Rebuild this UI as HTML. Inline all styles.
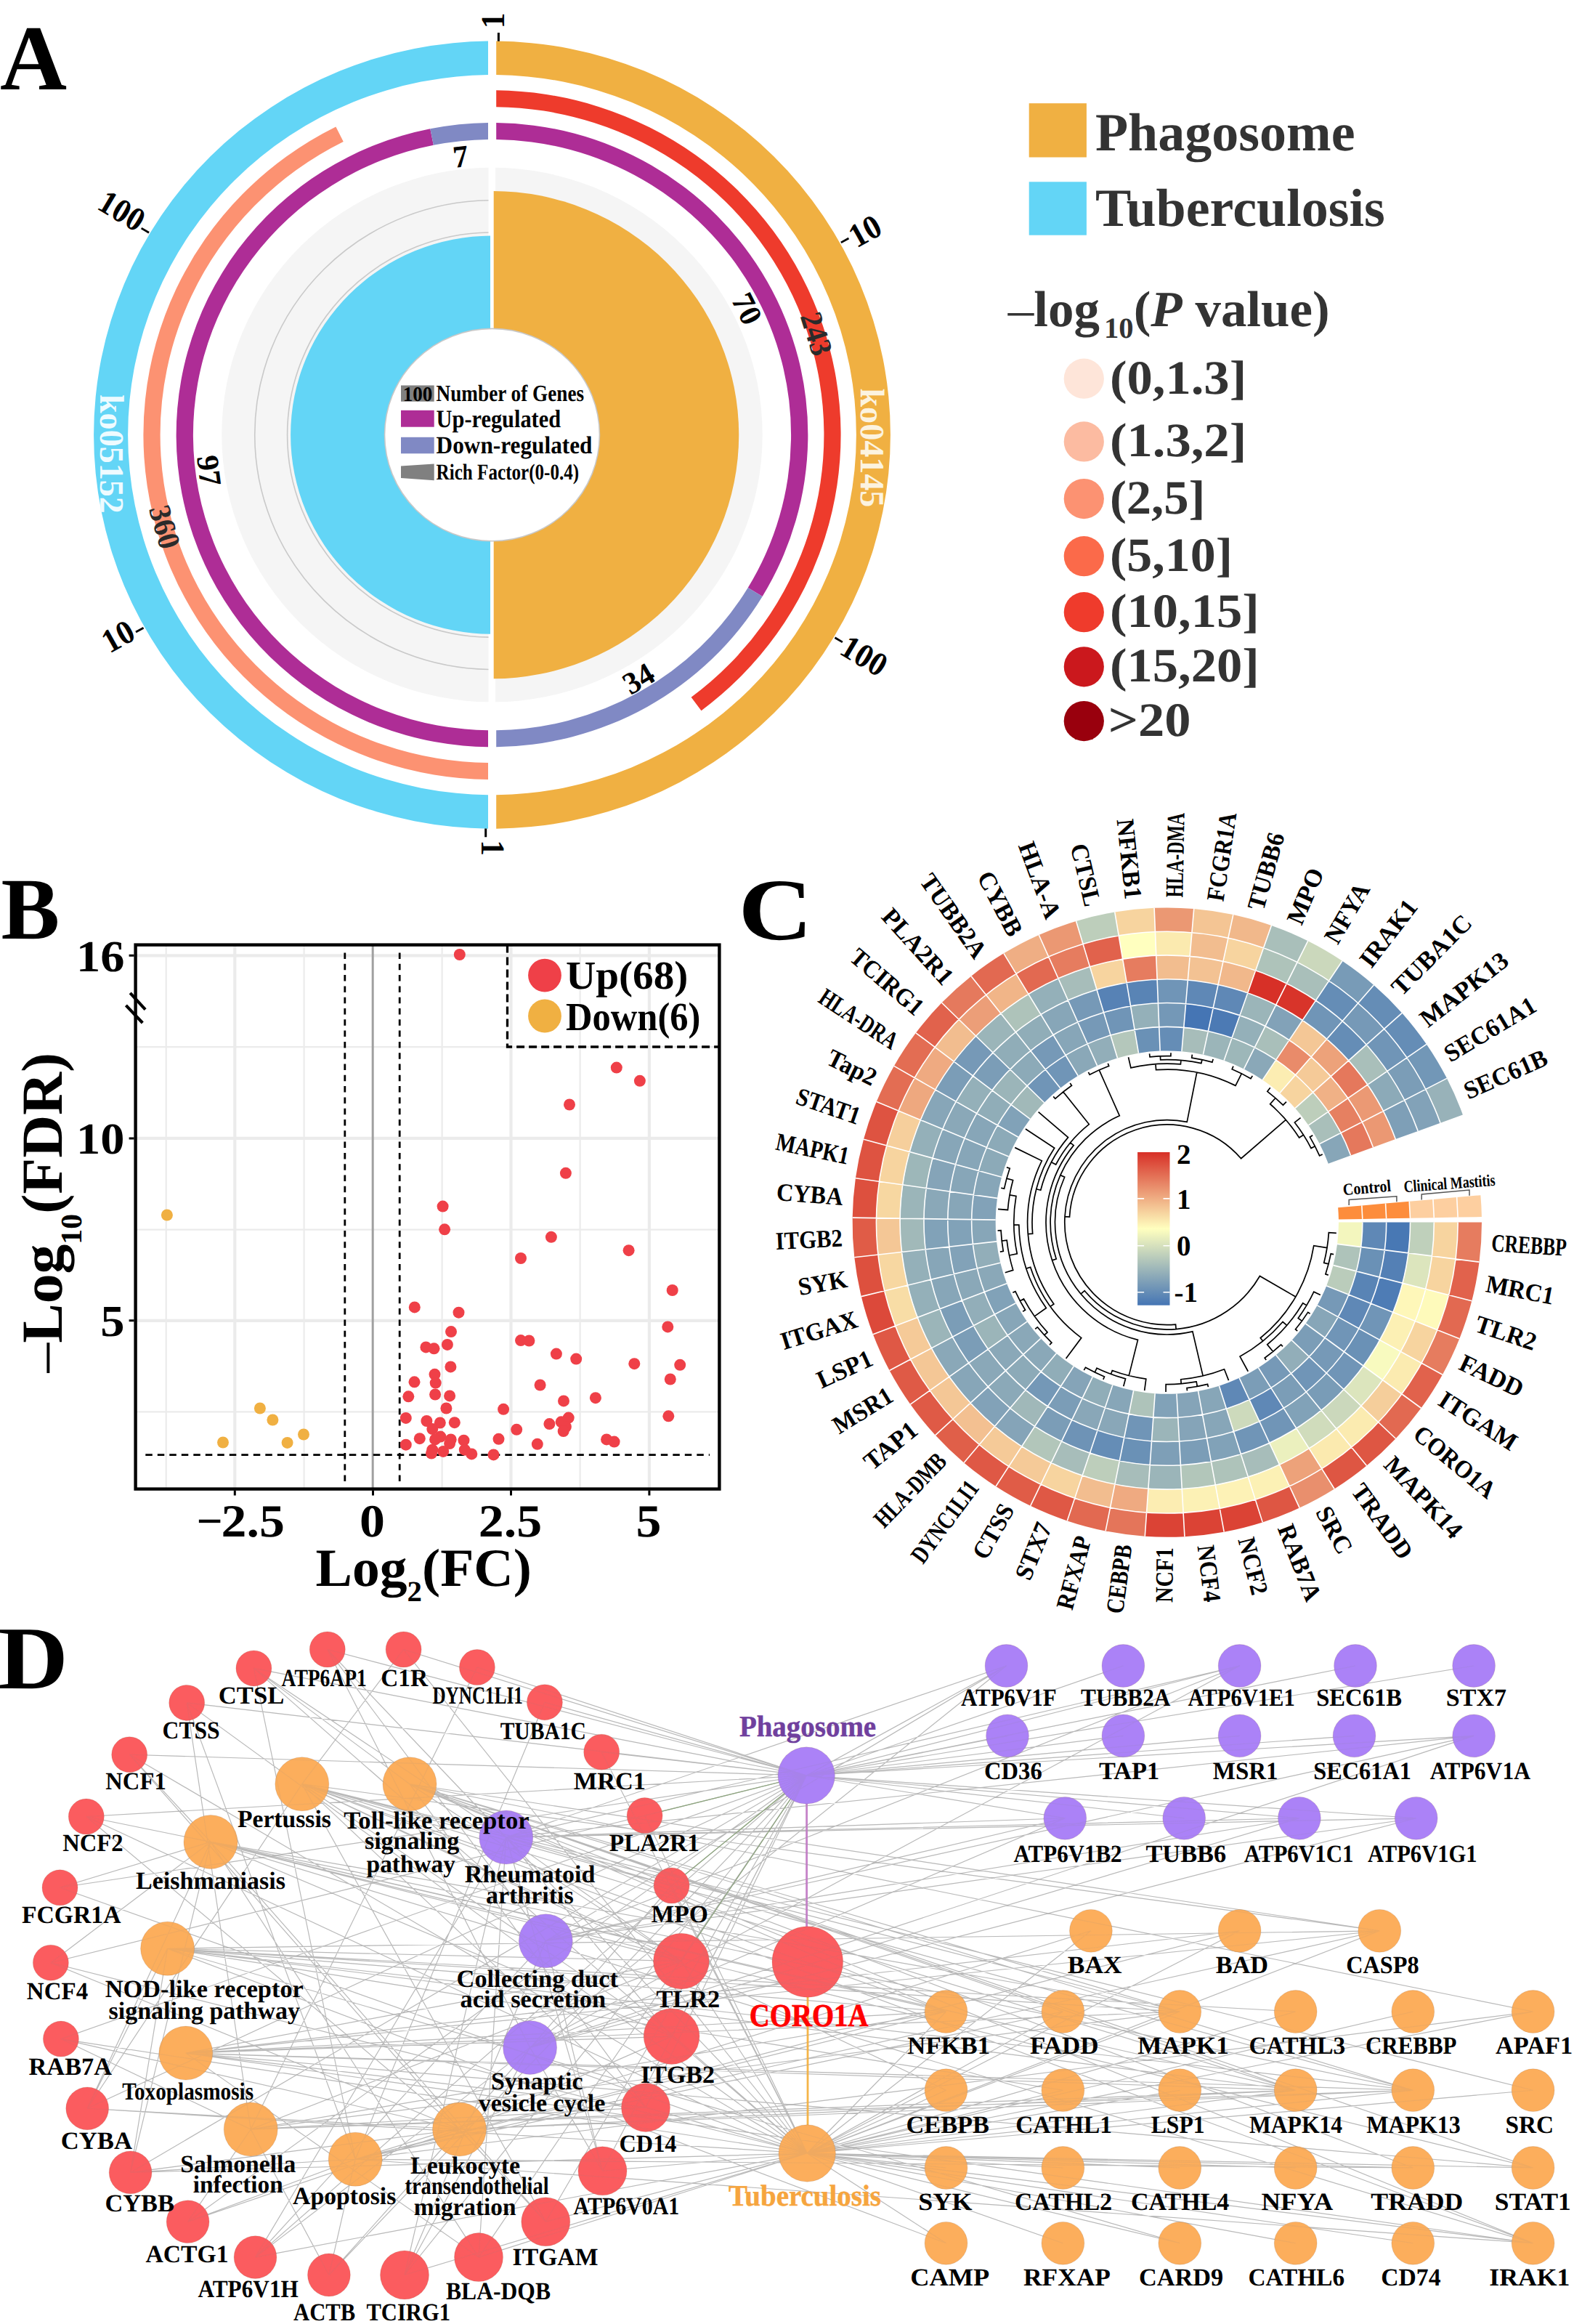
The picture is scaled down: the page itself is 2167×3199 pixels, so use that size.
<!DOCTYPE html>
<html lang="en"><head><meta charset="utf-8"><title>Figure</title>
<style>html,body{margin:0;padding:0;background:#fff}svg{display:block}</style></head>
<body>
<svg width="2167" height="3199" viewBox="0 0 2167 3199" font-family="'Liberation Serif', serif" font-weight="bold" text-rendering="geometricPrecision">
<defs><clipPath id="aR"><rect x="683.2" y="0" width="700" height="1200"/></clipPath><clipPath id="aL"><rect x="0" y="0" width="671.9" height="1200"/></clipPath><clipPath id="aGR"><rect x="682" y="0" width="700" height="1200"/></clipPath><clipPath id="aGL"><rect x="0" y="0" width="672.5" height="1200"/></clipPath><clipPath id="aSR"><rect x="679.7" y="0" width="700" height="1200"/></clipPath><clipPath id="aSL"><rect x="0" y="0" width="675" height="1200"/></clipPath></defs>
<path d="M677.5 56.5A548.61 542.1 0 0 1 677.5 1140.7L677.5 1094.2A501.55 495.6 0 0 0 677.5 103Z" fill="#F0B042" clip-path="url(#aR)"/>
<path d="M677.5 1140.7A548.61 542.1 0 0 1 677.5 56.5L677.5 103A501.55 495.6 0 0 0 677.5 1094.2Z" fill="#63D5F6" clip-path="url(#aL)"/>
<path d="M677.5 124.2A480.09 474.4 0 0 1 965.51 978.15L951.61 959.83A456.92 451.5 0 0 0 677.5 147.1Z" fill="#EE3B2C" clip-path="url(#aR)"/>
<path d="M677.5 1073A480.09 474.4 0 0 1 462.37 174.49L472.76 194.97A456.92 451.5 0 0 0 677.5 1050.1Z" fill="#FC9272" clip-path="url(#aL)"/>
<path d="M677.5 168.9A434.86 429.7 0 0 1 1049.64 820.9L1029.72 809A411.58 406.7 0 0 0 677.5 191.9Z" fill="#AE2D96" clip-path="url(#aR)"/>
<path d="M1049.64 820.9A434.86 429.7 0 0 1 677.5 1028.3L677.5 1005.3A411.58 406.7 0 0 0 1029.72 809Z" fill="#8089C4" clip-path="url(#aR)"/>
<path d="M677.5 1028.3A434.86 429.7 0 0 1 592.29 177.23L596.85 199.78A411.58 406.7 0 0 0 677.5 1005.3Z" fill="#AE2D96" clip-path="url(#aL)"/>
<path d="M592.29 177.23A434.86 429.7 0 0 1 677.5 168.9L677.5 191.9A411.58 406.7 0 0 0 596.85 199.78Z" fill="#8089C4" clip-path="url(#aL)"/>
<path d="M677.5 230.8A372.21 367.8 0 0 1 677.5 966.4L677.5 598.6Z" fill="#F5F5F5" clip-path="url(#aGR)"/>
<path d="M677.5 966.4A372.21 367.8 0 0 1 677.5 230.8L677.5 598.6Z" fill="#F5F5F5" clip-path="url(#aGL)"/>
<path d="M677.5 921.5A326.77 322.9 0 0 1 677.5 275.7" fill="none" stroke="#C9C9C9" stroke-width="1.6" clip-path="url(#aGL)"/>
<path d="M677.5 877.2A281.94 278.6 0 0 1 677.5 320" fill="none" stroke="#C9C9C9" stroke-width="1.6" clip-path="url(#aGL)"/>
<path d="M677.5 262.9A339.73 335.7 0 0 1 677.5 934.3L677.5 598.6Z" fill="#F0B042" clip-path="url(#aSR)"/>
<path d="M677.5 872.8A277.49 274.2 0 0 1 677.5 324.4L677.5 598.6Z" fill="#63D5F6" clip-path="url(#aSL)"/>
<ellipse cx="677.5" cy="598.6" rx="147.95" ry="146.2" fill="#fff" stroke="#C8C8C8" stroke-width="1.6"/>
<rect x="552" y="530.5" width="45.7" height="22.2" fill="#808080"/>
<rect x="552" y="564.8" width="45.7" height="22.9" fill="#AE2D96"/>
<rect x="552" y="601.8" width="45.7" height="22.5" fill="#8089C4"/>
<path d="M552 641.4L597.7 638.4L597.7 661.3L552 657.9Z" fill="#808080"/>
<text transform="translate(554.7,551.5) scale(0.95,1)" font-size="28.5">100</text>
<text transform="translate(600.6,551.5) scale(0.85,1)" font-size="32">Number of Genes</text>
<text transform="translate(600.6,587.7) scale(0.88,1)" font-size="34.5">Up-regulated</text>
<text transform="translate(600.6,624.3) scale(0.92,1)" font-size="34">Down-regulated</text>
<text transform="translate(600.6,660.2) scale(0.81,1)" font-size="31">Rich Factor(0-0.4)</text>
<path d="M686.4 45.1V56.8M668.7 1140.5V1152.2" stroke="#000" stroke-width="3"/>
<path d="M1157.86 333.86L1168.47 328.02" stroke="#000" stroke-width="2.8"/>
<path d="M1149.45 877.71L1159.87 883.87" stroke="#000" stroke-width="2.8"/>
<path d="M197.61 864.17L187.01 870.03" stroke="#000" stroke-width="2.8"/>
<path d="M205.05 320.3L194.62 314.16" stroke="#000" stroke-width="2.8"/>
<text transform="translate(694.4,39.2) rotate(-90) scale(0.95,1)" font-size="46">1</text>
<text transform="translate(663.4,1156.2) rotate(90) scale(0.95,1)" font-size="46">1</text>
<text transform="translate(1179.2,342.08) rotate(-29.15) scale(0.95,1)" font-size="46">10</text>
<text transform="translate(1153.73,899.06) rotate(30.9) scale(0.95,1)" font-size="46">100</text>
<text transform="translate(188.96,878.67) rotate(-29.25) scale(0.95,1)" font-size="46" text-anchor="end">10</text>
<text transform="translate(188.1,320.18) rotate(30.8) scale(0.95,1)" font-size="46" text-anchor="end">100</text>
<text transform="translate(1015.6,431.38) rotate(63.4) scale(0.98,1)" font-size="43" text-anchor="middle">70</text>
<text transform="translate(886.42,946.44) rotate(-30.7) scale(0.98,1)" font-size="43" text-anchor="middle">34</text>
<text transform="translate(635.63,229.95) rotate(-6.4) scale(0.98,1)" font-size="43" text-anchor="middle">7</text>
<text transform="translate(273.61,649.75) rotate(82.7) scale(0.98,1)" font-size="43" text-anchor="middle">97</text>
<text transform="translate(1110.51,463.74) rotate(72.5) scale(0.93,1)" font-size="43" text-anchor="middle" fill="#2b2b2b">243</text>
<text transform="translate(212.89,729.42) rotate(74.1) scale(0.93,1)" font-size="43" text-anchor="middle" fill="#2b2b2b">360</text>
<text transform="translate(1185.2,534.5) rotate(90) scale(0.98,1)" font-size="47" fill="#FCF3E0">ko04145</text>
<text transform="translate(137.8,543) rotate(90) scale(0.98,1)" font-size="47" fill="#EEFBFF">ko05152</text>
<rect x="1416.7" y="142.2" width="79.2" height="74.3" fill="#F0B042"/>
<rect x="1416.7" y="250.3" width="79.2" height="73.4" fill="#63D5F6"/>
<text transform="translate(1507.9,206.7)" font-size="74" fill="#333">Phagosome</text>
<text transform="translate(1507.9,311.2) scale(1,1)" font-size="74" fill="#333">Tuberculosis</text>
<text transform="translate(1387.8,449) scale(1.014,1)" font-size="70" fill="#333"><tspan font-weight="normal">–</tspan>log<tspan font-size="40" dx="6" dy="15.5">10</tspan><tspan dy="-15.5">(</tspan><tspan font-style="italic">P</tspan> value)</text>
<circle cx="1492.3" cy="521.2" r="27.6" fill="#FEE5D9"/>
<text transform="translate(1527.9,541.5) scale(1.07,1)" font-size="66" fill="#333">(0,1.3]</text>
<circle cx="1492.3" cy="607.9" r="27.6" fill="#FCBBA1"/>
<text transform="translate(1527.9,628.2) scale(1.07,1)" font-size="66" fill="#333">(1.3,2]</text>
<circle cx="1492.3" cy="686.6" r="27.6" fill="#FC9272"/>
<text transform="translate(1527.9,706.9) scale(1.04,1)" font-size="66" fill="#333">(2,5]</text>
<circle cx="1492.3" cy="765.7" r="27.6" fill="#FB6A4A"/>
<text transform="translate(1527.9,786) scale(1.06,1)" font-size="66" fill="#333">(5,10]</text>
<circle cx="1492.3" cy="842.7" r="27.6" fill="#EF3B2C"/>
<text transform="translate(1527.9,863) scale(1.07,1)" font-size="66" fill="#333">(10,15]</text>
<circle cx="1492.3" cy="917.8" r="27.6" fill="#CB181D"/>
<text transform="translate(1527.9,938.1) scale(1.07,1)" font-size="66" fill="#333">(15,20]</text>
<circle cx="1492.3" cy="992.6" r="27.6" fill="#99000D"/>
<text transform="translate(1525.7,1012.9) scale(1.1,1)" font-size="66" fill="#333">&gt;20</text>
<text transform="translate(0,122.5)" font-size="127.5">A</text>
<path d="M323.3 1300.6V2049.6M703.5 1300.6V2049.6M893.9 1300.6V2049.6M186.6 1315.3H990.4M186.6 1566.9H990.4M186.6 1817.8H990.4" stroke="#EBEBEB" stroke-width="4.2" fill="none"/>
<path d="M228.7 1300.6V2049.6M418.6 1300.6V2049.6M608.6 1300.6V2049.6M798.6 1300.6V2049.6M186.6 1441.1H990.4M186.6 1692.7H990.4M186.6 1943.3H990.4" stroke="#EBEBEB" stroke-width="2.2" fill="none"/>
<path d="M513.2 1300.6V2049.6" stroke="#A0A0A0" stroke-width="3"/>
<path d="M474.8 1311.5V2045M550.2 1311.5V2045" stroke="#000" stroke-width="2.8" stroke-dasharray="8.5 6.8" fill="none"/>
<path d="M200.3 2002.7H977" stroke="#000" stroke-width="2.8" stroke-dasharray="9.5 7" fill="none"/>
<g fill="#F0B042"><circle cx="229.9" cy="1672.5" r="8"/><circle cx="307" cy="1985.5" r="8"/><circle cx="357.9" cy="1938.5" r="8"/><circle cx="375.4" cy="1954.5" r="8"/><circle cx="395.6" cy="1985.9" r="8"/><circle cx="418" cy="1974.5" r="8"/></g>
<g fill="#EF4048"><circle cx="632.8" cy="1314" r="8"/><circle cx="848.8" cy="1469.6" r="8"/><circle cx="880.9" cy="1487.8" r="8"/><circle cx="784" cy="1520.5" r="8"/><circle cx="778.9" cy="1614.8" r="8"/><circle cx="609.6" cy="1660.6" r="8"/><circle cx="612.1" cy="1692.3" r="8"/><circle cx="758.9" cy="1702.8" r="8"/><circle cx="865.6" cy="1721.2" r="8"/><circle cx="717" cy="1732" r="8"/><circle cx="925.7" cy="1776" r="8"/><circle cx="570.8" cy="1799.4" r="8"/><circle cx="631.5" cy="1806.7" r="8"/><circle cx="919.3" cy="1826.4" r="8"/><circle cx="621" cy="1833.1" r="8"/><circle cx="615.9" cy="1850.9" r="8"/><circle cx="586.4" cy="1854.4" r="8"/><circle cx="597.5" cy="1856.3" r="8"/><circle cx="717" cy="1845.1" r="8"/><circle cx="728.4" cy="1845.5" r="8"/><circle cx="765.9" cy="1863.6" r="8"/><circle cx="793.2" cy="1870.6" r="8"/><circle cx="873.3" cy="1877.2" r="8"/><circle cx="936.2" cy="1878.8" r="8"/><circle cx="620.4" cy="1881.4" r="8"/><circle cx="598.5" cy="1891.8" r="8"/><circle cx="922.8" cy="1898.5" r="8"/><circle cx="570.5" cy="1902.3" r="8"/><circle cx="599.7" cy="1903.6" r="8"/><circle cx="743.6" cy="1906.5" r="8"/><circle cx="599.1" cy="1919.5" r="8"/><circle cx="619.1" cy="1921.4" r="8"/><circle cx="562.3" cy="1922.3" r="8"/><circle cx="819.9" cy="1924.2" r="8"/><circle cx="776" cy="1928.4" r="8"/><circle cx="614.4" cy="1938.5" r="8"/><circle cx="693.1" cy="1939.8" r="8"/><circle cx="920.3" cy="1949.3" r="8"/><circle cx="558.8" cy="1951.9" r="8"/><circle cx="782.7" cy="1951.6" r="8"/><circle cx="587.4" cy="1956" r="8"/><circle cx="605.8" cy="1958.5" r="8"/><circle cx="625.8" cy="1958.2" r="8"/><circle cx="772.6" cy="1957.3" r="8"/><circle cx="756.4" cy="1960.1" r="8"/><circle cx="778.9" cy="1964" r="8"/><circle cx="595.3" cy="1967.1" r="8"/><circle cx="711.2" cy="1967.8" r="8"/><circle cx="775.7" cy="1970" r="8"/><circle cx="606.4" cy="1977.6" r="8"/><circle cx="577.8" cy="1980.2" r="8"/><circle cx="599.1" cy="1981.4" r="8"/><circle cx="620.7" cy="1981.4" r="8"/><circle cx="638.5" cy="1982.7" r="8"/><circle cx="686.5" cy="1980.8" r="8"/><circle cx="835.1" cy="1981.4" r="8"/><circle cx="845.6" cy="1984.6" r="8"/><circle cx="558.8" cy="1988.7" r="8"/><circle cx="619.1" cy="1987.1" r="8"/><circle cx="739.8" cy="1987.8" r="8"/><circle cx="595.3" cy="1995.7" r="8"/><circle cx="610.2" cy="1997.9" r="8"/><circle cx="639.8" cy="1995.7" r="8"/><circle cx="594" cy="2000.5" r="8"/><circle cx="649.3" cy="2001.4" r="8"/><circle cx="679.5" cy="2002.4" r="8"/></g>
<path d="M698.5 1300.6V1441H990.4" stroke="#000" stroke-width="3.3" stroke-dasharray="11 6" fill="none"/>
<circle cx="750" cy="1342.6" r="22.9" fill="#EF4048"/>
<circle cx="750" cy="1398.5" r="22.9" fill="#F0B042"/>
<text transform="translate(778.9,1361) scale(1.04,1)" font-size="55">Up(68)</text>
<text transform="translate(778.9,1418.2) scale(0.92,1)" font-size="55">Down(6)</text>
<rect x="186.6" y="1300.6" width="803.8" height="749" fill="none" stroke="#000" stroke-width="4.4"/>
<path d="M323.3 2051.6v7M513.5 2051.6v7M703.5 2051.6v7M893.9 2051.6v7M184.6 1315.3h-7M184.6 1566.9h-7M184.6 1817.8h-7" stroke="#000" stroke-width="3" fill="none"/>
<path d="M179.2 1366.8L200.1 1389.7M173.4 1383.9L196.3 1408" stroke="#000" stroke-width="4.2"/>
<text transform="translate(304.5,2115) scale(1.1,1)" font-size="63.5">2.5</text>
<text transform="translate(270.6,2115)" font-size="63.5">−</text>
<text transform="translate(512.5,2115) scale(1.1,1)" font-size="63.5" text-anchor="middle">0</text>
<text transform="translate(702.5,2115) scale(1.1,1)" font-size="63.5" text-anchor="middle">2.5</text>
<text transform="translate(892.9,2115) scale(1.1,1)" font-size="63.5" text-anchor="middle">5</text>
<text transform="translate(171.6,1336.5) scale(1.09,1)" font-size="61" text-anchor="end">16</text>
<text transform="translate(171.6,1588.1) scale(1.09,1)" font-size="61" text-anchor="end">10</text>
<text transform="translate(171.6,1839) scale(1.09,1)" font-size="61" text-anchor="end">5</text>
<text transform="translate(434.6,2183) scale(1.021,1)" font-size="74">Log<tspan font-size="40" dy="21">2</tspan><tspan dy="-21">(FC)</tspan></text>
<text transform="translate(84.5,1889.5) rotate(-90) scale(1.02,1)" font-size="80"><tspan font-weight="normal">–</tspan>Log<tspan font-size="41" dy="27">10</tspan><tspan dy="-27">(FDR)</tspan></text>
<text transform="translate(1.5,1292)" font-size="121">B</text>
<g>
<path d="M1875.83 1682.6A269.03 269.03 0 0 1 1873.69 1716.48L1841.12 1712.34A236.2 236.2 0 0 0 1843 1682.6Z" fill="#F3F6BE"/>
<path d="M1908.67 1682.6A301.87 301.87 0 0 1 1906.26 1720.61L1873.69 1716.48A269.03 269.03 0 0 0 1875.83 1682.6Z" fill="#5F88B6"/>
<path d="M1941.5 1682.6A334.7 334.7 0 0 1 1938.84 1724.75L1906.26 1720.61A301.87 301.87 0 0 0 1908.67 1682.6Z" fill="#4878B4"/>
<path d="M1974.33 1682.6A367.53 367.53 0 0 1 1971.41 1728.88L1938.84 1724.75A334.7 334.7 0 0 0 1941.5 1682.6Z" fill="#BFD0BB"/>
<path d="M2007.17 1682.6A400.37 400.37 0 0 1 2003.98 1733.01L1971.41 1728.88A367.53 367.53 0 0 0 1974.33 1682.6Z" fill="#F7D49F"/>
<path d="M2040 1682.6A433.2 433.2 0 0 1 2036.55 1737.15L2003.98 1733.01A400.37 400.37 0 0 0 2007.17 1682.6Z" fill="#E67C5F"/>
<path d="M1873.69 1716.48A269.03 269.03 0 0 1 1867.3 1749.82L1835.51 1741.61A236.2 236.2 0 0 0 1841.12 1712.34Z" fill="#AEC3BA"/>
<path d="M1906.26 1720.61A301.87 301.87 0 0 1 1899.09 1758.02L1867.3 1749.82A269.03 269.03 0 0 0 1873.69 1716.48Z" fill="#6A91B6"/>
<path d="M1938.84 1724.75A334.7 334.7 0 0 1 1930.89 1766.22L1899.09 1758.02A301.87 301.87 0 0 0 1906.26 1720.61Z" fill="#5480B5"/>
<path d="M1971.41 1728.88A367.53 367.53 0 0 1 1962.68 1774.42L1930.89 1766.22A334.7 334.7 0 0 0 1938.84 1724.75Z" fill="#DCE5BD"/>
<path d="M2003.98 1733.01A400.37 400.37 0 0 1 1994.47 1782.63L1962.68 1774.42A367.53 367.53 0 0 0 1971.41 1728.88Z" fill="#F7D49F"/>
<path d="M2036.55 1737.15A433.2 433.2 0 0 1 2026.26 1790.83L1994.47 1782.63A400.37 400.37 0 0 0 2003.98 1733.01Z" fill="#E1624C"/>
<path d="M1867.3 1749.82A269.03 269.03 0 0 1 1856.76 1782.08L1826.26 1769.94A236.2 236.2 0 0 0 1835.51 1741.61Z" fill="#BACCBB"/>
<path d="M1899.09 1758.02A301.87 301.87 0 0 1 1887.27 1794.22L1856.76 1782.08A269.03 269.03 0 0 0 1867.3 1749.82Z" fill="#5984B5"/>
<path d="M1930.89 1766.22A334.7 334.7 0 0 1 1917.78 1806.37L1887.27 1794.22A301.87 301.87 0 0 0 1899.09 1758.02Z" fill="#4E7CB5"/>
<path d="M1962.68 1774.42A367.53 367.53 0 0 1 1948.28 1818.51L1917.78 1806.37A334.7 334.7 0 0 0 1930.89 1766.22Z" fill="#FEF7B9"/>
<path d="M1994.47 1782.63A400.37 400.37 0 0 1 1978.79 1830.65L1948.28 1818.51A367.53 367.53 0 0 0 1962.68 1774.42Z" fill="#FEFABB"/>
<path d="M2026.26 1790.83A433.2 433.2 0 0 1 2009.29 1842.79L1978.79 1830.65A400.37 400.37 0 0 0 1994.47 1782.63Z" fill="#E26951"/>
<path d="M1856.76 1782.08A269.03 269.03 0 0 1 1842.25 1812.77L1813.51 1796.88A236.2 236.2 0 0 0 1826.26 1769.94Z" fill="#7699B7"/>
<path d="M1887.27 1794.22A301.87 301.87 0 0 1 1870.98 1828.65L1842.25 1812.77A269.03 269.03 0 0 0 1856.76 1782.08Z" fill="#5F88B6"/>
<path d="M1917.78 1806.37A334.7 334.7 0 0 1 1899.72 1844.54L1870.98 1828.65A301.87 301.87 0 0 0 1887.27 1794.22Z" fill="#7095B7"/>
<path d="M1948.28 1818.51A367.53 367.53 0 0 1 1928.45 1860.42L1899.72 1844.54A334.7 334.7 0 0 0 1917.78 1806.37Z" fill="#FCF0B4"/>
<path d="M1978.79 1830.65A400.37 400.37 0 0 1 1957.19 1876.31L1928.45 1860.42A367.53 367.53 0 0 0 1948.28 1818.51Z" fill="#F7D49F"/>
<path d="M2009.29 1842.79A433.2 433.2 0 0 1 1985.92 1892.2L1957.19 1876.31A400.37 400.37 0 0 0 1978.79 1830.65Z" fill="#E67C5F"/>
<path d="M1842.25 1812.77A269.03 269.03 0 0 1 1823.98 1841.38L1797.48 1822A236.2 236.2 0 0 0 1813.51 1796.88Z" fill="#87A6B8"/>
<path d="M1870.98 1828.65A301.87 301.87 0 0 1 1850.49 1860.76L1823.98 1841.38A269.03 269.03 0 0 0 1842.25 1812.77Z" fill="#7095B7"/>
<path d="M1899.72 1844.54A334.7 334.7 0 0 1 1876.99 1880.13L1850.49 1860.76A301.87 301.87 0 0 0 1870.98 1828.65Z" fill="#6A91B6"/>
<path d="M1928.45 1860.42A367.53 367.53 0 0 1 1903.5 1899.51L1876.99 1880.13A334.7 334.7 0 0 0 1899.72 1844.54Z" fill="#F8FABF"/>
<path d="M1957.19 1876.31A400.37 400.37 0 0 1 1930 1918.89L1903.5 1899.51A367.53 367.53 0 0 0 1928.45 1860.42Z" fill="#FBEBB0"/>
<path d="M1985.92 1892.2A433.2 433.2 0 0 1 1956.51 1938.27L1930 1918.89A400.37 400.37 0 0 0 1957.19 1876.31Z" fill="#E1624C"/>
<path d="M1823.98 1841.38A269.03 269.03 0 0 1 1802.26 1867.46L1778.41 1844.9A236.2 236.2 0 0 0 1797.48 1822Z" fill="#7B9DB7"/>
<path d="M1850.49 1860.76A301.87 301.87 0 0 1 1826.11 1890.02L1802.26 1867.46A269.03 269.03 0 0 0 1823.98 1841.38Z" fill="#7699B7"/>
<path d="M1876.99 1880.13A334.7 334.7 0 0 1 1849.97 1912.59L1826.11 1890.02A301.87 301.87 0 0 0 1850.49 1860.76Z" fill="#7095B7"/>
<path d="M1903.5 1899.51A367.53 367.53 0 0 1 1873.82 1935.15L1849.97 1912.59A334.7 334.7 0 0 0 1876.99 1880.13Z" fill="#DCE5BD"/>
<path d="M1930 1918.89A400.37 400.37 0 0 1 1897.68 1957.71L1873.82 1935.15A367.53 367.53 0 0 0 1903.5 1899.51Z" fill="#F5CE9B"/>
<path d="M1956.51 1938.27A433.2 433.2 0 0 1 1921.53 1980.27L1897.68 1957.71A400.37 400.37 0 0 0 1930 1918.89Z" fill="#E26951"/>
<path d="M1802.26 1867.46A269.03 269.03 0 0 1 1777.43 1890.6L1756.6 1865.22A236.2 236.2 0 0 0 1778.41 1844.9Z" fill="#92AEB9"/>
<path d="M1826.11 1890.02A301.87 301.87 0 0 1 1798.25 1915.99L1777.43 1890.6A269.03 269.03 0 0 0 1802.26 1867.46Z" fill="#7095B7"/>
<path d="M1849.97 1912.59A334.7 334.7 0 0 1 1819.07 1941.37L1798.25 1915.99A301.87 301.87 0 0 0 1826.11 1890.02Z" fill="#799CB7"/>
<path d="M1873.82 1935.15A367.53 367.53 0 0 1 1839.9 1966.76L1819.07 1941.37A334.7 334.7 0 0 0 1849.97 1912.59Z" fill="#CBD8BC"/>
<path d="M1897.68 1957.71A400.37 400.37 0 0 1 1860.72 1992.15L1839.9 1966.76A367.53 367.53 0 0 0 1873.82 1935.15Z" fill="#FBEBB0"/>
<path d="M1921.53 1980.27A433.2 433.2 0 0 1 1881.54 2017.53L1860.72 1992.15A400.37 400.37 0 0 0 1897.68 1957.71Z" fill="#DE5643"/>
<path d="M1777.43 1890.6A269.03 269.03 0 0 1 1749.88 1910.43L1732.41 1882.63A236.2 236.2 0 0 0 1756.6 1865.22Z" fill="#7699B7"/>
<path d="M1798.25 1915.99A301.87 301.87 0 0 1 1767.34 1938.24L1749.88 1910.43A269.03 269.03 0 0 0 1777.43 1890.6Z" fill="#7B9DB7"/>
<path d="M1819.07 1941.37A334.7 334.7 0 0 1 1784.8 1966.04L1767.34 1938.24A301.87 301.87 0 0 0 1798.25 1915.99Z" fill="#81A2B8"/>
<path d="M1839.9 1966.76A367.53 367.53 0 0 1 1802.26 1993.85L1784.8 1966.04A334.7 334.7 0 0 0 1819.07 1941.37Z" fill="#D0DCBC"/>
<path d="M1860.72 1992.15A400.37 400.37 0 0 1 1819.72 2021.66L1802.26 1993.85A367.53 367.53 0 0 0 1839.9 1966.76Z" fill="#FBEAAF"/>
<path d="M1881.54 2017.53A433.2 433.2 0 0 1 1837.18 2049.46L1819.72 2021.66A400.37 400.37 0 0 0 1860.72 1992.15Z" fill="#DE5643"/>
<path d="M1749.88 1910.43A269.03 269.03 0 0 1 1720.05 1926.64L1706.23 1896.85A236.2 236.2 0 0 0 1732.41 1882.63Z" fill="#7B9DB7"/>
<path d="M1767.34 1938.24A301.87 301.87 0 0 1 1733.87 1956.42L1720.05 1926.64A269.03 269.03 0 0 0 1749.88 1910.43Z" fill="#5F88B6"/>
<path d="M1784.8 1966.04A334.7 334.7 0 0 1 1747.69 1986.2L1733.87 1956.42A301.87 301.87 0 0 0 1767.34 1938.24Z" fill="#7095B7"/>
<path d="M1802.26 1993.85A367.53 367.53 0 0 1 1761.51 2015.99L1747.69 1986.2A334.7 334.7 0 0 0 1784.8 1966.04Z" fill="#EBF0BE"/>
<path d="M1819.72 2021.66A400.37 400.37 0 0 1 1775.33 2045.77L1761.51 2015.99A367.53 367.53 0 0 0 1802.26 1993.85Z" fill="#EDA27A"/>
<path d="M1837.18 2049.46A433.2 433.2 0 0 1 1789.15 2075.55L1775.33 2045.77A400.37 400.37 0 0 0 1819.72 2021.66Z" fill="#E98F6D"/>
<path d="M1720.05 1926.64A269.03 269.03 0 0 1 1688.42 1938.95L1678.46 1907.67A236.2 236.2 0 0 0 1706.23 1896.85Z" fill="#5F88B6"/>
<path d="M1733.87 1956.42A301.87 301.87 0 0 1 1698.38 1970.24L1688.42 1938.95A269.03 269.03 0 0 0 1720.05 1926.64Z" fill="#CDDABC"/>
<path d="M1747.69 1986.2A334.7 334.7 0 0 1 1708.34 2001.53L1698.38 1970.24A301.87 301.87 0 0 0 1733.87 1956.42Z" fill="#7095B7"/>
<path d="M1761.51 2015.99A367.53 367.53 0 0 1 1718.3 2032.81L1708.34 2001.53A334.7 334.7 0 0 0 1747.69 1986.2Z" fill="#A7BDBA"/>
<path d="M1775.33 2045.77A400.37 400.37 0 0 1 1728.26 2064.1L1718.3 2032.81A367.53 367.53 0 0 0 1761.51 2015.99Z" fill="#FCF1B5"/>
<path d="M1789.15 2075.55A433.2 433.2 0 0 1 1738.22 2095.38L1728.26 2064.1A400.37 400.37 0 0 0 1775.33 2045.77Z" fill="#DE5643"/>
<path d="M1688.42 1938.95A269.03 269.03 0 0 1 1655.49 1947.19L1649.54 1914.9A236.2 236.2 0 0 0 1678.46 1907.67Z" fill="#87A6B8"/>
<path d="M1698.38 1970.24A301.87 301.87 0 0 1 1661.43 1979.48L1655.49 1947.19A269.03 269.03 0 0 0 1688.42 1938.95Z" fill="#87A6B8"/>
<path d="M1708.34 2001.53A334.7 334.7 0 0 1 1667.37 2011.77L1661.43 1979.48A301.87 301.87 0 0 0 1698.38 1970.24Z" fill="#81A2B8"/>
<path d="M1718.3 2032.81A367.53 367.53 0 0 1 1673.31 2044.07L1667.37 2011.77A334.7 334.7 0 0 0 1708.34 2001.53Z" fill="#AEC3BA"/>
<path d="M1728.26 2064.1A400.37 400.37 0 0 1 1679.25 2076.36L1673.31 2044.07A367.53 367.53 0 0 0 1718.3 2032.81Z" fill="#FDF2B6"/>
<path d="M1738.22 2095.38A433.2 433.2 0 0 1 1685.19 2108.65L1679.25 2076.36A400.37 400.37 0 0 0 1728.26 2064.1Z" fill="#DB4335"/>
<path d="M1655.49 1947.19A269.03 269.03 0 0 1 1621.78 1951.22L1619.95 1918.43A236.2 236.2 0 0 0 1649.54 1914.9Z" fill="#85A4B8"/>
<path d="M1661.43 1979.48A301.87 301.87 0 0 1 1623.61 1984L1621.78 1951.22A269.03 269.03 0 0 0 1655.49 1947.19Z" fill="#85A4B8"/>
<path d="M1667.37 2011.77A334.7 334.7 0 0 1 1625.44 2016.78L1623.61 1984A301.87 301.87 0 0 0 1661.43 1979.48Z" fill="#7B9DB7"/>
<path d="M1673.31 2044.07A367.53 367.53 0 0 1 1627.27 2049.56L1625.44 2016.78A334.7 334.7 0 0 0 1667.37 2011.77Z" fill="#B2C6BA"/>
<path d="M1679.25 2076.36A400.37 400.37 0 0 1 1629.09 2082.35L1627.27 2049.56A367.53 367.53 0 0 0 1673.31 2044.07Z" fill="#FCF1B5"/>
<path d="M1685.19 2108.65A433.2 433.2 0 0 1 1630.92 2115.13L1629.09 2082.35A400.37 400.37 0 0 0 1679.25 2076.36Z" fill="#DB4335"/>
<path d="M1621.78 1951.22A269.03 269.03 0 0 1 1587.84 1950.96L1590.15 1918.21A236.2 236.2 0 0 0 1619.95 1918.43Z" fill="#81A2B8"/>
<path d="M1623.61 1984A301.87 301.87 0 0 1 1585.52 1983.72L1587.84 1950.96A269.03 269.03 0 0 0 1621.78 1951.22Z" fill="#9BB5B9"/>
<path d="M1625.44 2016.78A334.7 334.7 0 0 1 1583.21 2016.47L1585.52 1983.72A301.87 301.87 0 0 0 1623.61 1984Z" fill="#7E9FB7"/>
<path d="M1627.27 2049.56A367.53 367.53 0 0 1 1580.89 2049.22L1583.21 2016.47A334.7 334.7 0 0 0 1625.44 2016.78Z" fill="#9BB5B9"/>
<path d="M1629.09 2082.35A400.37 400.37 0 0 1 1578.58 2081.97L1580.89 2049.22A367.53 367.53 0 0 0 1627.27 2049.56Z" fill="#FCEDB2"/>
<path d="M1630.92 2115.13A433.2 433.2 0 0 1 1576.26 2114.72L1578.58 2081.97A400.37 400.37 0 0 0 1629.09 2082.35Z" fill="#DB4335"/>
<path d="M1587.84 1950.96A269.03 269.03 0 0 1 1554.19 1946.44L1560.61 1914.24A236.2 236.2 0 0 0 1590.15 1918.21Z" fill="#AEC3BA"/>
<path d="M1585.52 1983.72A301.87 301.87 0 0 1 1547.77 1978.64L1554.19 1946.44A269.03 269.03 0 0 0 1587.84 1950.96Z" fill="#7095B7"/>
<path d="M1583.21 2016.47A334.7 334.7 0 0 1 1541.35 2010.84L1547.77 1978.64A301.87 301.87 0 0 0 1585.52 1983.72Z" fill="#6A91B6"/>
<path d="M1580.89 2049.22A367.53 367.53 0 0 1 1534.93 2043.04L1541.35 2010.84A334.7 334.7 0 0 0 1583.21 2016.47Z" fill="#A7BDBA"/>
<path d="M1578.58 2081.97A400.37 400.37 0 0 1 1528.51 2075.24L1534.93 2043.04A367.53 367.53 0 0 0 1580.89 2049.22Z" fill="#EFAA81"/>
<path d="M1576.26 2114.72A433.2 433.2 0 0 1 1522.09 2107.44L1528.51 2075.24A400.37 400.37 0 0 0 1578.58 2081.97Z" fill="#E4755A"/>
<path d="M1554.19 1946.44A269.03 269.03 0 0 1 1521.39 1937.72L1531.81 1906.58A236.2 236.2 0 0 0 1560.61 1914.24Z" fill="#87A6B8"/>
<path d="M1547.77 1978.64A301.87 301.87 0 0 1 1510.97 1968.85L1521.39 1937.72A269.03 269.03 0 0 0 1554.19 1946.44Z" fill="#89A7B8"/>
<path d="M1541.35 2010.84A334.7 334.7 0 0 1 1500.54 1999.99L1510.97 1968.85A301.87 301.87 0 0 0 1547.77 1978.64Z" fill="#658DB6"/>
<path d="M1534.93 2043.04A367.53 367.53 0 0 1 1490.12 2031.12L1500.54 1999.99A334.7 334.7 0 0 0 1541.35 2010.84Z" fill="#BDCEBB"/>
<path d="M1528.51 2075.24A400.37 400.37 0 0 1 1479.7 2062.26L1490.12 2031.12A367.53 367.53 0 0 0 1534.93 2043.04Z" fill="#F2BD8F"/>
<path d="M1522.09 2107.44A433.2 433.2 0 0 1 1469.27 2093.39L1479.7 2062.26A400.37 400.37 0 0 0 1528.51 2075.24Z" fill="#E26951"/>
<path d="M1521.39 1937.72A269.03 269.03 0 0 1 1489.95 1924.93L1504.21 1895.36A236.2 236.2 0 0 0 1531.81 1906.58Z" fill="#90ADB8"/>
<path d="M1510.97 1968.85A301.87 301.87 0 0 1 1475.68 1954.5L1489.95 1924.93A269.03 269.03 0 0 0 1521.39 1937.72Z" fill="#89A7B8"/>
<path d="M1500.54 1999.99A334.7 334.7 0 0 1 1461.42 1984.08L1475.68 1954.5A301.87 301.87 0 0 0 1510.97 1968.85Z" fill="#6E93B6"/>
<path d="M1490.12 2031.12A367.53 367.53 0 0 1 1447.16 2013.65L1461.42 1984.08A334.7 334.7 0 0 0 1500.54 1999.99Z" fill="#A7BDBA"/>
<path d="M1479.7 2062.26A400.37 400.37 0 0 1 1432.9 2043.23L1447.16 2013.65A367.53 367.53 0 0 0 1490.12 2031.12Z" fill="#F7D49F"/>
<path d="M1469.27 2093.39A433.2 433.2 0 0 1 1418.64 2072.8L1432.9 2043.23A400.37 400.37 0 0 0 1479.7 2062.26Z" fill="#DF5845"/>
<path d="M1489.95 1924.93A269.03 269.03 0 0 1 1460.36 1908.29L1478.23 1880.74A236.2 236.2 0 0 0 1504.21 1895.36Z" fill="#85A4B8"/>
<path d="M1475.68 1954.5A301.87 301.87 0 0 1 1442.49 1935.83L1460.36 1908.29A269.03 269.03 0 0 0 1489.95 1924.93Z" fill="#7B9DB7"/>
<path d="M1461.42 1984.08A334.7 334.7 0 0 1 1424.62 1963.37L1442.49 1935.83A301.87 301.87 0 0 0 1475.68 1954.5Z" fill="#7B9DB7"/>
<path d="M1447.16 2013.65A367.53 367.53 0 0 1 1406.75 1990.92L1424.62 1963.37A334.7 334.7 0 0 0 1461.42 1984.08Z" fill="#B2C6BA"/>
<path d="M1432.9 2043.23A400.37 400.37 0 0 1 1388.87 2018.46L1406.75 1990.92A367.53 367.53 0 0 0 1447.16 2013.65Z" fill="#F5CA98"/>
<path d="M1418.64 2072.8A433.2 433.2 0 0 1 1371 2046L1388.87 2018.46A400.37 400.37 0 0 0 1432.9 2043.23Z" fill="#E05C47"/>
<path d="M1460.36 1908.29A269.03 269.03 0 0 1 1433.11 1888.05L1454.31 1862.98A236.2 236.2 0 0 0 1478.23 1880.74Z" fill="#90ADB8"/>
<path d="M1442.49 1935.83A301.87 301.87 0 0 1 1411.91 1913.12L1433.11 1888.05A269.03 269.03 0 0 0 1460.36 1908.29Z" fill="#7498B7"/>
<path d="M1424.62 1963.37A334.7 334.7 0 0 1 1390.71 1938.2L1411.91 1913.12A301.87 301.87 0 0 0 1442.49 1935.83Z" fill="#A0B8B9"/>
<path d="M1406.75 1990.92A367.53 367.53 0 0 1 1369.51 1963.27L1390.71 1938.2A334.7 334.7 0 0 0 1424.62 1963.37Z" fill="#85A4B8"/>
<path d="M1388.87 2018.46A400.37 400.37 0 0 1 1348.32 1988.34L1369.51 1963.27A367.53 367.53 0 0 0 1406.75 1990.92Z" fill="#F5CA98"/>
<path d="M1371 2046A433.2 433.2 0 0 1 1327.12 2013.42L1348.32 1988.34A400.37 400.37 0 0 0 1388.87 2018.46Z" fill="#DF5845"/>
<path d="M1433.11 1888.05A269.03 269.03 0 0 1 1408.62 1864.54L1432.81 1842.34A236.2 236.2 0 0 0 1454.31 1862.98Z" fill="#8AA8B8"/>
<path d="M1411.91 1913.12A301.87 301.87 0 0 1 1384.43 1886.75L1408.62 1864.54A269.03 269.03 0 0 0 1433.11 1888.05Z" fill="#8CAAB8"/>
<path d="M1390.71 1938.2A334.7 334.7 0 0 1 1360.25 1908.95L1384.43 1886.75A301.87 301.87 0 0 0 1411.91 1913.12Z" fill="#8BA9B8"/>
<path d="M1369.51 1963.27A367.53 367.53 0 0 1 1336.06 1931.16L1360.25 1908.95A334.7 334.7 0 0 0 1390.71 1938.2Z" fill="#82A2B8"/>
<path d="M1348.32 1988.34A400.37 400.37 0 0 1 1311.87 1953.36L1336.06 1931.16A367.53 367.53 0 0 0 1369.51 1963.27Z" fill="#F3C091"/>
<path d="M1327.12 2013.42A433.2 433.2 0 0 1 1287.69 1975.57L1311.87 1953.36A400.37 400.37 0 0 0 1348.32 1988.34Z" fill="#E05F49"/>
<path d="M1408.62 1864.54A269.03 269.03 0 0 1 1387.29 1838.14L1414.08 1819.16A236.2 236.2 0 0 0 1432.81 1842.34Z" fill="#8AA8B8"/>
<path d="M1384.43 1886.75A301.87 301.87 0 0 1 1360.5 1857.12L1387.29 1838.14A269.03 269.03 0 0 0 1408.62 1864.54Z" fill="#8AA8B8"/>
<path d="M1360.25 1908.95A334.7 334.7 0 0 1 1333.71 1876.1L1360.5 1857.12A301.87 301.87 0 0 0 1384.43 1886.75Z" fill="#8AA8B8"/>
<path d="M1336.06 1931.16A367.53 367.53 0 0 1 1306.92 1895.09L1333.71 1876.1A334.7 334.7 0 0 0 1360.25 1908.95Z" fill="#87A6B8"/>
<path d="M1311.87 1953.36A400.37 400.37 0 0 1 1280.13 1914.07L1306.92 1895.09A367.53 367.53 0 0 0 1336.06 1931.16Z" fill="#F4C796"/>
<path d="M1287.69 1975.57A433.2 433.2 0 0 1 1253.34 1933.05L1280.13 1914.07A400.37 400.37 0 0 0 1311.87 1953.36Z" fill="#DF5A46"/>
<path d="M1387.29 1838.14A269.03 269.03 0 0 1 1369.45 1809.26L1398.41 1793.8A236.2 236.2 0 0 0 1414.08 1819.16Z" fill="#87A6B8"/>
<path d="M1360.5 1857.12A301.87 301.87 0 0 1 1340.48 1824.72L1369.45 1809.26A269.03 269.03 0 0 0 1387.29 1838.14Z" fill="#9BB5B9"/>
<path d="M1333.71 1876.1A334.7 334.7 0 0 1 1311.51 1840.18L1340.48 1824.72A301.87 301.87 0 0 0 1360.5 1857.12Z" fill="#7B9DB7"/>
<path d="M1306.92 1895.09A367.53 367.53 0 0 1 1282.55 1855.63L1311.51 1840.18A334.7 334.7 0 0 0 1333.71 1876.1Z" fill="#8AA8B8"/>
<path d="M1280.13 1914.07A400.37 400.37 0 0 1 1253.58 1871.09L1282.55 1855.63A367.53 367.53 0 0 0 1306.92 1895.09Z" fill="#F4C796"/>
<path d="M1253.34 1933.05A433.2 433.2 0 0 1 1224.61 1886.55L1253.58 1871.09A400.37 400.37 0 0 0 1280.13 1914.07Z" fill="#DF5A46"/>
<path d="M1369.45 1809.26A269.03 269.03 0 0 1 1355.39 1778.36L1386.07 1766.68A236.2 236.2 0 0 0 1398.41 1793.8Z" fill="#81A2B8"/>
<path d="M1340.48 1824.72A301.87 301.87 0 0 1 1324.7 1790.05L1355.39 1778.36A269.03 269.03 0 0 0 1369.45 1809.26Z" fill="#92AEB9"/>
<path d="M1311.51 1840.18A334.7 334.7 0 0 1 1294.02 1801.74L1324.7 1790.05A301.87 301.87 0 0 0 1340.48 1824.72Z" fill="#7B9DB7"/>
<path d="M1282.55 1855.63A367.53 367.53 0 0 1 1263.34 1813.43L1294.02 1801.74A334.7 334.7 0 0 0 1311.51 1840.18Z" fill="#9BB5B9"/>
<path d="M1253.58 1871.09A400.37 400.37 0 0 1 1232.66 1825.11L1263.34 1813.43A367.53 367.53 0 0 0 1282.55 1855.63Z" fill="#F5CA98"/>
<path d="M1224.61 1886.55A433.2 433.2 0 0 1 1201.97 1836.8L1232.66 1825.11A400.37 400.37 0 0 0 1253.58 1871.09Z" fill="#DF5845"/>
<path d="M1355.39 1778.36A269.03 269.03 0 0 1 1345.33 1745.94L1377.24 1738.21A236.2 236.2 0 0 0 1386.07 1766.68Z" fill="#8AA8B8"/>
<path d="M1324.7 1790.05A301.87 301.87 0 0 1 1313.42 1753.67L1345.33 1745.94A269.03 269.03 0 0 0 1355.39 1778.36Z" fill="#8AA8B8"/>
<path d="M1294.02 1801.74A334.7 334.7 0 0 1 1281.51 1761.4L1313.42 1753.67A301.87 301.87 0 0 0 1324.7 1790.05Z" fill="#87A6B8"/>
<path d="M1263.34 1813.43A367.53 367.53 0 0 1 1249.6 1769.13L1281.51 1761.4A334.7 334.7 0 0 0 1294.02 1801.74Z" fill="#94B0B9"/>
<path d="M1232.66 1825.11A400.37 400.37 0 0 1 1217.69 1776.87L1249.6 1769.13A367.53 367.53 0 0 0 1263.34 1813.43Z" fill="#F8DDA6"/>
<path d="M1201.97 1836.8A433.2 433.2 0 0 1 1185.78 1784.6L1217.69 1776.87A400.37 400.37 0 0 0 1232.66 1825.11Z" fill="#DC493A"/>
<path d="M1345.33 1745.94A269.03 269.03 0 0 1 1339.43 1712.51L1372.06 1708.86A236.2 236.2 0 0 0 1377.24 1738.21Z" fill="#92AEB9"/>
<path d="M1313.42 1753.67A301.87 301.87 0 0 1 1306.81 1716.16L1339.43 1712.51A269.03 269.03 0 0 0 1345.33 1745.94Z" fill="#82A2B8"/>
<path d="M1281.51 1761.4A334.7 334.7 0 0 1 1274.18 1719.82L1306.81 1716.16A301.87 301.87 0 0 0 1313.42 1753.67Z" fill="#87A6B8"/>
<path d="M1249.6 1769.13A367.53 367.53 0 0 1 1241.55 1723.47L1274.18 1719.82A334.7 334.7 0 0 0 1281.51 1761.4Z" fill="#94B0B9"/>
<path d="M1217.69 1776.87A400.37 400.37 0 0 1 1208.92 1727.12L1241.55 1723.47A367.53 367.53 0 0 0 1249.6 1769.13Z" fill="#F7D7A1"/>
<path d="M1185.78 1784.6A433.2 433.2 0 0 1 1176.29 1730.77L1208.92 1727.12A400.37 400.37 0 0 0 1217.69 1776.87Z" fill="#DD503E"/>
<path d="M1339.43 1712.51A269.03 269.03 0 0 1 1337.8 1678.61L1370.63 1679.1A236.2 236.2 0 0 0 1372.06 1708.86Z" fill="#87A6B8"/>
<path d="M1306.81 1716.16A301.87 301.87 0 0 1 1304.97 1678.12L1337.8 1678.61A269.03 269.03 0 0 0 1339.43 1712.51Z" fill="#81A2B8"/>
<path d="M1274.18 1719.82A334.7 334.7 0 0 1 1272.14 1677.63L1304.97 1678.12A301.87 301.87 0 0 0 1306.81 1716.16Z" fill="#81A2B8"/>
<path d="M1241.55 1723.47A367.53 367.53 0 0 1 1239.31 1677.15L1272.14 1677.63A334.7 334.7 0 0 0 1274.18 1719.82Z" fill="#A1B9B9"/>
<path d="M1208.92 1727.12A400.37 400.37 0 0 1 1206.48 1676.66L1239.31 1677.15A367.53 367.53 0 0 0 1241.55 1723.47Z" fill="#F4C796"/>
<path d="M1176.29 1730.77A433.2 433.2 0 0 1 1173.65 1676.17L1206.48 1676.66A400.37 400.37 0 0 0 1208.92 1727.12Z" fill="#E05C47"/>
<path d="M1337.8 1678.61A269.03 269.03 0 0 1 1340.44 1644.77L1372.95 1649.38A236.2 236.2 0 0 0 1370.63 1679.1Z" fill="#82A2B8"/>
<path d="M1304.97 1678.12A301.87 301.87 0 0 1 1307.93 1640.15L1340.44 1644.77A269.03 269.03 0 0 0 1337.8 1678.61Z" fill="#87A6B8"/>
<path d="M1272.14 1677.63A334.7 334.7 0 0 1 1275.43 1635.53L1307.93 1640.15A301.87 301.87 0 0 0 1304.97 1678.12Z" fill="#8AA8B8"/>
<path d="M1239.31 1677.15A367.53 367.53 0 0 1 1242.92 1630.92L1275.43 1635.53A334.7 334.7 0 0 0 1272.14 1677.63Z" fill="#9BB5B9"/>
<path d="M1206.48 1676.66A400.37 400.37 0 0 1 1210.41 1626.3L1242.92 1630.92A367.53 367.53 0 0 0 1239.31 1677.15Z" fill="#F7D7A1"/>
<path d="M1173.65 1676.17A433.2 433.2 0 0 1 1177.9 1621.68L1210.41 1626.3A400.37 400.37 0 0 0 1206.48 1676.66Z" fill="#DD503E"/>
<path d="M1340.44 1644.77A269.03 269.03 0 0 1 1347.32 1611.53L1378.99 1620.2A236.2 236.2 0 0 0 1372.95 1649.38Z" fill="#87A6B8"/>
<path d="M1307.93 1640.15A301.87 301.87 0 0 1 1315.66 1602.85L1347.32 1611.53A269.03 269.03 0 0 0 1340.44 1644.77Z" fill="#87A6B8"/>
<path d="M1275.43 1635.53A334.7 334.7 0 0 1 1283.99 1594.18L1315.66 1602.85A301.87 301.87 0 0 0 1307.93 1640.15Z" fill="#85A4B8"/>
<path d="M1242.92 1630.92A367.53 367.53 0 0 1 1252.32 1585.51L1283.99 1594.18A334.7 334.7 0 0 0 1275.43 1635.53Z" fill="#9DB7B9"/>
<path d="M1210.41 1626.3A400.37 400.37 0 0 1 1220.66 1576.83L1252.32 1585.51A367.53 367.53 0 0 0 1242.92 1630.92Z" fill="#F7D49F"/>
<path d="M1177.9 1621.68A433.2 433.2 0 0 1 1188.99 1568.16L1220.66 1576.83A400.37 400.37 0 0 0 1210.41 1626.3Z" fill="#DE5341"/>
<path d="M1347.32 1611.53A269.03 269.03 0 0 1 1358.34 1579.42L1388.66 1592.01A236.2 236.2 0 0 0 1378.99 1620.2Z" fill="#8CAAB8"/>
<path d="M1315.66 1602.85A301.87 301.87 0 0 1 1328.02 1566.83L1358.34 1579.42A269.03 269.03 0 0 0 1347.32 1611.53Z" fill="#87A6B8"/>
<path d="M1283.99 1594.18A334.7 334.7 0 0 1 1297.69 1554.24L1328.02 1566.83A301.87 301.87 0 0 0 1315.66 1602.85Z" fill="#87A6B8"/>
<path d="M1252.32 1585.51A367.53 367.53 0 0 1 1267.37 1541.64L1297.69 1554.24A334.7 334.7 0 0 0 1283.99 1594.18Z" fill="#94B0B9"/>
<path d="M1220.66 1576.83A400.37 400.37 0 0 1 1237.05 1529.05L1267.37 1541.64A367.53 367.53 0 0 0 1252.32 1585.51Z" fill="#F6CF9C"/>
<path d="M1188.99 1568.16A433.2 433.2 0 0 1 1206.73 1516.46L1237.05 1529.05A400.37 400.37 0 0 0 1220.66 1576.83Z" fill="#DE5341"/>
<path d="M1358.34 1579.42A269.03 269.03 0 0 1 1373.31 1548.95L1401.81 1565.26A236.2 236.2 0 0 0 1388.66 1592.01Z" fill="#8CAAB8"/>
<path d="M1328.02 1566.83A301.87 301.87 0 0 1 1344.81 1532.64L1373.31 1548.95A269.03 269.03 0 0 0 1358.34 1579.42Z" fill="#87A6B8"/>
<path d="M1297.69 1554.24A334.7 334.7 0 0 1 1316.32 1516.33L1344.81 1532.64A301.87 301.87 0 0 0 1328.02 1566.83Z" fill="#8AA8B8"/>
<path d="M1267.37 1541.64A367.53 367.53 0 0 1 1287.82 1500.02L1316.32 1516.33A334.7 334.7 0 0 0 1297.69 1554.24Z" fill="#87A6B8"/>
<path d="M1237.05 1529.05A400.37 400.37 0 0 1 1259.33 1483.71L1287.82 1500.02A367.53 367.53 0 0 0 1267.37 1541.64Z" fill="#EEA87F"/>
<path d="M1206.73 1516.46A433.2 433.2 0 0 1 1230.83 1467.4L1259.33 1483.71A400.37 400.37 0 0 0 1237.05 1529.05Z" fill="#E36D53"/>
<path d="M1373.31 1548.95A269.03 269.03 0 0 1 1392 1520.62L1418.21 1540.39A236.2 236.2 0 0 0 1401.81 1565.26Z" fill="#81A2B8"/>
<path d="M1344.81 1532.64A301.87 301.87 0 0 1 1365.78 1500.85L1392 1520.62A269.03 269.03 0 0 0 1373.31 1548.95Z" fill="#90ADB8"/>
<path d="M1316.32 1516.33A334.7 334.7 0 0 1 1339.57 1481.08L1365.78 1500.85A301.87 301.87 0 0 0 1344.81 1532.64Z" fill="#94B0B9"/>
<path d="M1287.82 1500.02A367.53 367.53 0 0 1 1313.35 1461.31L1339.57 1481.08A334.7 334.7 0 0 0 1316.32 1516.33Z" fill="#7B9DB7"/>
<path d="M1259.33 1483.71A400.37 400.37 0 0 1 1287.14 1441.54L1313.35 1461.31A367.53 367.53 0 0 0 1287.82 1500.02Z" fill="#EFAA81"/>
<path d="M1230.83 1467.4A433.2 433.2 0 0 1 1260.92 1421.77L1287.14 1441.54A400.37 400.37 0 0 0 1259.33 1483.71Z" fill="#E36D53"/>
<path d="M1392 1520.62A269.03 269.03 0 0 1 1414.1 1494.86L1437.62 1517.77A236.2 236.2 0 0 0 1418.21 1540.39Z" fill="#A1B9B9"/>
<path d="M1365.78 1500.85A301.87 301.87 0 0 1 1390.59 1471.95L1414.1 1494.86A269.03 269.03 0 0 0 1392 1520.62Z" fill="#9BB5B9"/>
<path d="M1339.57 1481.08A334.7 334.7 0 0 1 1367.07 1449.03L1390.59 1471.95A301.87 301.87 0 0 0 1365.78 1500.85Z" fill="#7B9DB7"/>
<path d="M1313.35 1461.31A367.53 367.53 0 0 1 1343.55 1426.12L1367.07 1449.03A334.7 334.7 0 0 0 1339.57 1481.08Z" fill="#7699B7"/>
<path d="M1287.14 1441.54A400.37 400.37 0 0 1 1320.04 1403.21L1343.55 1426.12A367.53 367.53 0 0 0 1313.35 1461.31Z" fill="#F2BD8F"/>
<path d="M1260.92 1421.77A433.2 433.2 0 0 1 1296.52 1380.3L1320.04 1403.21A400.37 400.37 0 0 0 1287.14 1441.54Z" fill="#E1624C"/>
<path d="M1414.1 1494.86A269.03 269.03 0 0 1 1439.28 1472.09L1459.72 1497.78A236.2 236.2 0 0 0 1437.62 1517.77Z" fill="#7095B7"/>
<path d="M1390.59 1471.95A301.87 301.87 0 0 1 1418.83 1446.4L1439.28 1472.09A269.03 269.03 0 0 0 1414.1 1494.86Z" fill="#8CAAB8"/>
<path d="M1367.07 1449.03A334.7 334.7 0 0 1 1398.39 1420.7L1418.83 1446.4A301.87 301.87 0 0 0 1390.59 1471.95Z" fill="#90ADB8"/>
<path d="M1343.55 1426.12A367.53 367.53 0 0 1 1377.94 1395.01L1398.39 1420.7A334.7 334.7 0 0 0 1367.07 1449.03Z" fill="#9BB5B9"/>
<path d="M1320.04 1403.21A400.37 400.37 0 0 1 1357.5 1369.32L1377.94 1395.01A367.53 367.53 0 0 0 1343.55 1426.12Z" fill="#EC9E78"/>
<path d="M1296.52 1380.3A433.2 433.2 0 0 1 1337.06 1343.63L1357.5 1369.32A400.37 400.37 0 0 0 1320.04 1403.21Z" fill="#E5795D"/>
<path d="M1439.28 1472.09A269.03 269.03 0 0 1 1467.12 1452.67L1484.17 1480.73A236.2 236.2 0 0 0 1459.72 1497.78Z" fill="#7095B7"/>
<path d="M1418.83 1446.4A301.87 301.87 0 0 1 1450.07 1424.61L1467.12 1452.67A269.03 269.03 0 0 0 1439.28 1472.09Z" fill="#7699B7"/>
<path d="M1398.39 1420.7A334.7 334.7 0 0 1 1433.03 1396.55L1450.07 1424.61A301.87 301.87 0 0 0 1418.83 1446.4Z" fill="#90ADB8"/>
<path d="M1377.94 1395.01A367.53 367.53 0 0 1 1415.98 1368.48L1433.03 1396.55A334.7 334.7 0 0 0 1398.39 1420.7Z" fill="#AEC3BA"/>
<path d="M1357.5 1369.32A400.37 400.37 0 0 1 1398.93 1340.42L1415.98 1368.48A367.53 367.53 0 0 0 1377.94 1395.01Z" fill="#F1B588"/>
<path d="M1337.06 1343.63A433.2 433.2 0 0 1 1381.89 1312.36L1398.93 1340.42A400.37 400.37 0 0 0 1357.5 1369.32Z" fill="#E26951"/>
<path d="M1467.12 1452.67A269.03 269.03 0 0 1 1497.19 1436.91L1510.56 1466.89A236.2 236.2 0 0 0 1484.17 1480.73Z" fill="#8AA8B8"/>
<path d="M1450.07 1424.61A301.87 301.87 0 0 1 1483.81 1406.93L1497.19 1436.91A269.03 269.03 0 0 0 1467.12 1452.67Z" fill="#87A6B8"/>
<path d="M1433.03 1396.55A334.7 334.7 0 0 1 1470.43 1376.94L1483.81 1406.93A301.87 301.87 0 0 0 1450.07 1424.61Z" fill="#87A6B8"/>
<path d="M1415.98 1368.48A367.53 367.53 0 0 1 1457.05 1346.96L1470.43 1376.94A334.7 334.7 0 0 0 1433.03 1396.55Z" fill="#94B0B9"/>
<path d="M1398.93 1340.42A400.37 400.37 0 0 1 1443.68 1316.97L1457.05 1346.96A367.53 367.53 0 0 0 1415.98 1368.48Z" fill="#E26951"/>
<path d="M1381.89 1312.36A433.2 433.2 0 0 1 1430.3 1286.99L1443.68 1316.97A400.37 400.37 0 0 0 1398.93 1340.42Z" fill="#EFAE84"/>
<path d="M1497.19 1436.91A269.03 269.03 0 0 1 1529 1425.06L1538.49 1456.49A236.2 236.2 0 0 0 1510.56 1466.89Z" fill="#92AEB9"/>
<path d="M1483.81 1406.93A301.87 301.87 0 0 1 1519.5 1393.63L1529 1425.06A269.03 269.03 0 0 0 1497.19 1436.91Z" fill="#7699B7"/>
<path d="M1470.43 1376.94A334.7 334.7 0 0 1 1510.01 1362.2L1519.5 1393.63A301.87 301.87 0 0 0 1483.81 1406.93Z" fill="#7699B7"/>
<path d="M1457.05 1346.96A367.53 367.53 0 0 1 1500.51 1330.77L1510.01 1362.2A334.7 334.7 0 0 0 1470.43 1376.94Z" fill="#A7BDBA"/>
<path d="M1443.68 1316.97A400.37 400.37 0 0 1 1491.01 1299.34L1500.51 1330.77A367.53 367.53 0 0 0 1457.05 1346.96Z" fill="#E67C5F"/>
<path d="M1430.3 1286.99A433.2 433.2 0 0 1 1481.52 1267.91L1491.01 1299.34A400.37 400.37 0 0 0 1443.68 1316.97Z" fill="#EB9873"/>
<path d="M1529 1425.06A269.03 269.03 0 0 1 1562.04 1417.32L1567.51 1449.69A236.2 236.2 0 0 0 1538.49 1456.49Z" fill="#B4C7BB"/>
<path d="M1519.5 1393.63A301.87 301.87 0 0 1 1556.58 1384.94L1562.04 1417.32A269.03 269.03 0 0 0 1529 1425.06Z" fill="#7095B7"/>
<path d="M1510.01 1362.2A334.7 334.7 0 0 1 1551.12 1352.56L1556.58 1384.94A301.87 301.87 0 0 0 1519.5 1393.63Z" fill="#5782B5"/>
<path d="M1500.51 1330.77A367.53 367.53 0 0 1 1545.66 1320.19L1551.12 1352.56A334.7 334.7 0 0 0 1510.01 1362.2Z" fill="#F7D49F"/>
<path d="M1491.01 1299.34A400.37 400.37 0 0 1 1540.2 1287.81L1545.66 1320.19A367.53 367.53 0 0 0 1500.51 1330.77Z" fill="#E1624C"/>
<path d="M1481.52 1267.91A433.2 433.2 0 0 1 1534.73 1255.44L1540.2 1287.81A400.37 400.37 0 0 0 1491.01 1299.34Z" fill="#BDCEBB"/>
<path d="M1562.04 1417.32A269.03 269.03 0 0 1 1595.81 1413.79L1597.15 1446.6A236.2 236.2 0 0 0 1567.51 1449.69Z" fill="#6A91B6"/>
<path d="M1556.58 1384.94A301.87 301.87 0 0 1 1594.46 1380.99L1595.81 1413.79A269.03 269.03 0 0 0 1562.04 1417.32Z" fill="#94B0B9"/>
<path d="M1551.12 1352.56A334.7 334.7 0 0 1 1593.12 1348.18L1594.46 1380.99A301.87 301.87 0 0 0 1556.58 1384.94Z" fill="#5984B5"/>
<path d="M1545.66 1320.19A367.53 367.53 0 0 1 1591.78 1315.37L1593.12 1348.18A334.7 334.7 0 0 0 1551.12 1352.56Z" fill="#E67C5F"/>
<path d="M1540.2 1287.81A400.37 400.37 0 0 1 1590.44 1282.57L1591.78 1315.37A367.53 367.53 0 0 0 1545.66 1320.19Z" fill="#FFFFBF"/>
<path d="M1534.73 1255.44A433.2 433.2 0 0 1 1589.1 1249.76L1590.44 1282.57A400.37 400.37 0 0 0 1540.2 1287.81Z" fill="#F7D49F"/>
<path d="M1595.81 1413.79A269.03 269.03 0 0 1 1629.74 1414.55L1626.94 1447.26A236.2 236.2 0 0 0 1597.15 1446.6Z" fill="#658DB6"/>
<path d="M1594.46 1380.99A301.87 301.87 0 0 1 1632.54 1381.83L1629.74 1414.55A269.03 269.03 0 0 0 1595.81 1413.79Z" fill="#7498B7"/>
<path d="M1593.12 1348.18A334.7 334.7 0 0 1 1635.34 1349.12L1632.54 1381.83A301.87 301.87 0 0 0 1594.46 1380.99Z" fill="#7095B7"/>
<path d="M1591.78 1315.37A367.53 367.53 0 0 1 1638.14 1316.41L1635.34 1349.12A334.7 334.7 0 0 0 1593.12 1348.18Z" fill="#F2BD8F"/>
<path d="M1590.44 1282.57A400.37 400.37 0 0 1 1640.94 1283.69L1638.14 1316.41A367.53 367.53 0 0 0 1591.78 1315.37Z" fill="#FBEAAF"/>
<path d="M1589.1 1249.76A433.2 433.2 0 0 1 1643.74 1250.98L1640.94 1283.69A400.37 400.37 0 0 0 1590.44 1282.57Z" fill="#EB9873"/>
<path d="M1629.74 1414.55A269.03 269.03 0 0 1 1663.31 1419.57L1656.42 1451.67A236.2 236.2 0 0 0 1626.94 1447.26Z" fill="#A7BDBA"/>
<path d="M1632.54 1381.83A301.87 301.87 0 0 1 1670.21 1387.47L1663.31 1419.57A269.03 269.03 0 0 0 1629.74 1414.55Z" fill="#4575B4"/>
<path d="M1635.34 1349.12A334.7 334.7 0 0 1 1677.11 1355.37L1670.21 1387.47A301.87 301.87 0 0 0 1632.54 1381.83Z" fill="#5F88B6"/>
<path d="M1638.14 1316.41A367.53 367.53 0 0 1 1684 1323.27L1677.11 1355.37A334.7 334.7 0 0 0 1635.34 1349.12Z" fill="#F3C293"/>
<path d="M1640.94 1283.69A400.37 400.37 0 0 1 1690.9 1291.17L1684 1323.27A367.53 367.53 0 0 0 1638.14 1316.41Z" fill="#F2BD8F"/>
<path d="M1643.74 1250.98A433.2 433.2 0 0 1 1697.8 1259.07L1690.9 1291.17A400.37 400.37 0 0 0 1640.94 1283.69Z" fill="#F4C594"/>
<path d="M1663.31 1419.57A269.03 269.03 0 0 1 1695.99 1428.78L1685.1 1459.76A236.2 236.2 0 0 0 1656.42 1451.67Z" fill="#9BB5B9"/>
<path d="M1670.21 1387.47A301.87 301.87 0 0 1 1706.87 1397.8L1695.99 1428.78A269.03 269.03 0 0 0 1663.31 1419.57Z" fill="#4C7AB4"/>
<path d="M1677.11 1355.37A334.7 334.7 0 0 1 1717.75 1366.83L1706.87 1397.8A301.87 301.87 0 0 0 1670.21 1387.47Z" fill="#5F88B6"/>
<path d="M1684 1323.27A367.53 367.53 0 0 1 1728.64 1335.85L1717.75 1366.83A334.7 334.7 0 0 0 1677.11 1355.37Z" fill="#F1B88B"/>
<path d="M1690.9 1291.17A400.37 400.37 0 0 1 1739.52 1304.87L1728.64 1335.85A367.53 367.53 0 0 0 1684 1323.27Z" fill="#F7D49F"/>
<path d="M1697.8 1259.07A433.2 433.2 0 0 1 1750.41 1273.9L1739.52 1304.87A400.37 400.37 0 0 0 1690.9 1291.17Z" fill="#F1B88B"/>
<path d="M1695.99 1428.78A269.03 269.03 0 0 1 1727.24 1442.03L1712.54 1471.39A236.2 236.2 0 0 0 1685.1 1459.76Z" fill="#9DB7B9"/>
<path d="M1706.87 1397.8A301.87 301.87 0 0 1 1741.94 1412.67L1727.24 1442.03A269.03 269.03 0 0 0 1695.99 1428.78Z" fill="#94B0B9"/>
<path d="M1717.75 1366.83A334.7 334.7 0 0 1 1756.63 1383.31L1741.94 1412.67A301.87 301.87 0 0 0 1706.87 1397.8Z" fill="#9BB5B9"/>
<path d="M1728.64 1335.85A367.53 367.53 0 0 1 1771.33 1353.95L1756.63 1383.31A334.7 334.7 0 0 0 1717.75 1366.83Z" fill="#D73027"/>
<path d="M1739.52 1304.87A400.37 400.37 0 0 1 1786.03 1324.59L1771.33 1353.95A367.53 367.53 0 0 0 1728.64 1335.85Z" fill="#AEC3BA"/>
<path d="M1750.41 1273.9A433.2 433.2 0 0 1 1800.73 1295.23L1786.03 1324.59A400.37 400.37 0 0 0 1739.52 1304.87Z" fill="#A9BFBA"/>
<path d="M1727.24 1442.03A269.03 269.03 0 0 1 1756.57 1459.11L1738.29 1486.39A236.2 236.2 0 0 0 1712.54 1471.39Z" fill="#8AA8B8"/>
<path d="M1741.94 1412.67A301.87 301.87 0 0 1 1774.85 1431.84L1756.57 1459.11A269.03 269.03 0 0 0 1727.24 1442.03Z" fill="#A9BFBA"/>
<path d="M1756.63 1383.31A334.7 334.7 0 0 1 1793.13 1404.56L1774.85 1431.84A301.87 301.87 0 0 0 1741.94 1412.67Z" fill="#82A2B8"/>
<path d="M1771.33 1353.95A367.53 367.53 0 0 1 1811.41 1377.29L1793.13 1404.56A334.7 334.7 0 0 0 1756.63 1383.31Z" fill="#D8342A"/>
<path d="M1786.03 1324.59A400.37 400.37 0 0 1 1829.68 1350.01L1811.41 1377.29A367.53 367.53 0 0 0 1771.33 1353.95Z" fill="#A9BFBA"/>
<path d="M1800.73 1295.23A433.2 433.2 0 0 1 1847.96 1322.74L1829.68 1350.01A400.37 400.37 0 0 0 1786.03 1324.59Z" fill="#CBD8BC"/>
<path d="M1756.57 1459.11A269.03 269.03 0 0 1 1783.52 1479.75L1761.95 1504.51A236.2 236.2 0 0 0 1738.29 1486.39Z" fill="#FCEDB2"/>
<path d="M1774.85 1431.84A301.87 301.87 0 0 1 1805.09 1454.99L1783.52 1479.75A269.03 269.03 0 0 0 1756.57 1459.11Z" fill="#E98B6A"/>
<path d="M1793.13 1404.56A334.7 334.7 0 0 1 1826.66 1430.24L1805.09 1454.99A301.87 301.87 0 0 0 1774.85 1431.84Z" fill="#F4C796"/>
<path d="M1811.41 1377.29A367.53 367.53 0 0 1 1848.22 1405.48L1826.66 1430.24A334.7 334.7 0 0 0 1793.13 1404.56Z" fill="#7095B7"/>
<path d="M1829.68 1350.01A400.37 400.37 0 0 1 1869.79 1380.72L1848.22 1405.48A367.53 367.53 0 0 0 1811.41 1377.29Z" fill="#658DB6"/>
<path d="M1847.96 1322.74A433.2 433.2 0 0 1 1891.36 1355.97L1869.79 1380.72A400.37 400.37 0 0 0 1829.68 1350.01Z" fill="#789BB7"/>
<path d="M1783.52 1479.75A269.03 269.03 0 0 1 1807.66 1503.62L1783.14 1525.46A236.2 236.2 0 0 0 1761.95 1504.51Z" fill="#F7D49F"/>
<path d="M1805.09 1454.99A301.87 301.87 0 0 1 1832.17 1481.77L1807.66 1503.62A269.03 269.03 0 0 0 1783.52 1479.75Z" fill="#F5CA98"/>
<path d="M1826.66 1430.24A334.7 334.7 0 0 1 1856.68 1459.93L1832.17 1481.77A301.87 301.87 0 0 0 1805.09 1454.99Z" fill="#EDA27A"/>
<path d="M1848.22 1405.48A367.53 367.53 0 0 1 1881.2 1438.09L1856.68 1459.93A334.7 334.7 0 0 0 1826.66 1430.24Z" fill="#658DB6"/>
<path d="M1869.79 1380.72A400.37 400.37 0 0 1 1905.71 1416.24L1881.2 1438.09A367.53 367.53 0 0 0 1848.22 1405.48Z" fill="#7699B7"/>
<path d="M1891.36 1355.97A433.2 433.2 0 0 1 1930.22 1394.4L1905.71 1416.24A400.37 400.37 0 0 0 1869.79 1380.72Z" fill="#658DB6"/>
<path d="M1807.66 1503.62A269.03 269.03 0 0 1 1828.6 1530.33L1801.53 1548.92A236.2 236.2 0 0 0 1783.14 1525.46Z" fill="#BDCEBB"/>
<path d="M1832.17 1481.77A301.87 301.87 0 0 1 1855.67 1511.75L1828.6 1530.33A269.03 269.03 0 0 0 1807.66 1503.62Z" fill="#F0B186"/>
<path d="M1856.68 1459.93A334.7 334.7 0 0 1 1882.73 1493.17L1855.67 1511.75A301.87 301.87 0 0 0 1832.17 1481.77Z" fill="#E5785C"/>
<path d="M1881.2 1438.09A367.53 367.53 0 0 1 1909.8 1474.59L1882.73 1493.17A334.7 334.7 0 0 0 1856.68 1459.93Z" fill="#A9BFBA"/>
<path d="M1905.71 1416.24A400.37 400.37 0 0 1 1936.87 1456L1909.8 1474.59A367.53 367.53 0 0 0 1881.2 1438.09Z" fill="#7095B7"/>
<path d="M1930.22 1394.4A433.2 433.2 0 0 1 1963.94 1437.42L1936.87 1456A400.37 400.37 0 0 0 1905.71 1416.24Z" fill="#658DB6"/>
<path d="M1828.6 1530.33A269.03 269.03 0 0 1 1846.01 1559.48L1816.81 1574.5A236.2 236.2 0 0 0 1801.53 1548.92Z" fill="#A9BFBA"/>
<path d="M1855.67 1511.75A301.87 301.87 0 0 1 1875.2 1544.45L1846.01 1559.48A269.03 269.03 0 0 0 1828.6 1530.33Z" fill="#E68061"/>
<path d="M1882.73 1493.17A334.7 334.7 0 0 1 1904.39 1529.42L1875.2 1544.45A301.87 301.87 0 0 0 1855.67 1511.75Z" fill="#EB9974"/>
<path d="M1909.8 1474.59A367.53 367.53 0 0 1 1933.58 1514.4L1904.39 1529.42A334.7 334.7 0 0 0 1882.73 1493.17Z" fill="#8CAAB8"/>
<path d="M1936.87 1456A400.37 400.37 0 0 1 1962.78 1499.37L1933.58 1514.4A367.53 367.53 0 0 0 1909.8 1474.59Z" fill="#7B9DB7"/>
<path d="M1963.94 1437.42A433.2 433.2 0 0 1 1991.97 1484.34L1962.78 1499.37A400.37 400.37 0 0 0 1936.87 1456Z" fill="#7297B7"/>
<path d="M1846.01 1559.48A269.03 269.03 0 0 1 1859.61 1590.58L1828.75 1601.81A236.2 236.2 0 0 0 1816.81 1574.5Z" fill="#87A6B8"/>
<path d="M1875.2 1544.45A301.87 301.87 0 0 1 1890.46 1579.35L1859.61 1590.58A269.03 269.03 0 0 0 1846.01 1559.48Z" fill="#E5785C"/>
<path d="M1904.39 1529.42A334.7 334.7 0 0 1 1921.31 1568.11L1890.46 1579.35A301.87 301.87 0 0 0 1875.2 1544.45Z" fill="#EB9873"/>
<path d="M1933.58 1514.4A367.53 367.53 0 0 1 1952.16 1556.88L1921.31 1568.11A334.7 334.7 0 0 0 1904.39 1529.42Z" fill="#7E9FB7"/>
<path d="M1962.78 1499.37A400.37 400.37 0 0 1 1983.02 1545.65L1952.16 1556.88A367.53 367.53 0 0 0 1933.58 1514.4Z" fill="#82A2B8"/>
<path d="M1991.97 1484.34A433.2 433.2 0 0 1 2013.87 1534.42L1983.02 1545.65A400.37 400.37 0 0 0 1962.78 1499.37Z" fill="#98B2B9"/>
<path d="M1874.83 1659.39A269.03 269.03 0 0 1 1875.79 1677.9L1842.96 1678.48A236.2 236.2 0 0 0 1842.12 1662.22Z" fill="#FD8D3C"/>
<path d="M1907.54 1656.55A301.87 301.87 0 0 1 1908.62 1677.33L1875.79 1677.9A269.03 269.03 0 0 0 1874.83 1659.39Z" fill="#FD8D3C"/>
<path d="M1940.25 1653.72A334.7 334.7 0 0 1 1941.45 1676.76L1908.62 1677.33A301.87 301.87 0 0 0 1907.54 1656.55Z" fill="#FD8D3C"/>
<path d="M1972.96 1650.89A367.53 367.53 0 0 1 1974.28 1676.19L1941.45 1676.76A334.7 334.7 0 0 0 1940.25 1653.72Z" fill="#FDCFA0"/>
<path d="M2005.67 1648.05A400.37 400.37 0 0 1 2007.11 1675.61L1974.28 1676.19A367.53 367.53 0 0 0 1972.96 1650.89Z" fill="#FDCFA0"/>
<path d="M2038.38 1645.22A433.2 433.2 0 0 1 2039.93 1675.04L2007.11 1675.61A400.37 400.37 0 0 0 2005.67 1648.05Z" fill="#FDCFA0"/>
</g>
<path d="M1841.12 1712.34L2036.55 1737.15M1835.51 1741.61L2026.26 1790.83M1826.26 1769.94L2009.29 1842.79M1813.51 1796.88L1985.92 1892.2M1797.48 1822L1956.51 1938.27M1778.41 1844.9L1921.53 1980.27M1756.6 1865.22L1881.54 2017.53M1732.41 1882.63L1837.18 2049.46M1706.23 1896.85L1789.15 2075.55M1678.46 1907.67L1738.22 2095.38M1649.54 1914.9L1685.19 2108.65M1619.95 1918.43L1630.92 2115.13M1590.15 1918.21L1576.26 2114.72M1560.61 1914.24L1522.09 2107.44M1531.81 1906.58L1469.27 2093.39M1504.21 1895.36L1418.64 2072.8M1478.23 1880.74L1371 2046M1454.31 1862.98L1327.12 2013.42M1432.81 1842.34L1287.69 1975.57M1414.08 1819.16L1253.34 1933.05M1398.41 1793.8L1224.61 1886.55M1386.07 1766.68L1201.97 1836.8M1377.24 1738.21L1185.78 1784.6M1372.06 1708.86L1176.29 1730.77M1370.63 1679.1L1173.65 1676.17M1372.95 1649.38L1177.9 1621.68M1378.99 1620.2L1188.99 1568.16M1388.66 1592.01L1206.73 1516.46M1401.81 1565.26L1230.83 1467.4M1418.21 1540.39L1260.92 1421.77M1437.62 1517.77L1296.52 1380.3M1459.72 1497.78L1337.06 1343.63M1484.17 1480.73L1381.89 1312.36M1510.56 1466.89L1430.3 1286.99M1538.49 1456.49L1481.52 1267.91M1567.51 1449.69L1534.73 1255.44M1597.15 1446.6L1589.1 1249.76M1626.94 1447.26L1643.74 1250.98M1656.42 1451.67L1697.8 1259.07M1685.1 1459.76L1750.41 1273.9M1712.54 1471.39L1800.73 1295.23M1738.29 1486.39L1847.96 1322.74M1761.95 1504.51L1891.36 1355.97M1783.14 1525.46L1930.22 1394.4M1801.53 1548.92L1963.94 1437.42M1816.81 1574.5L1991.97 1484.34M1875.83 1682.6A269.03 269.03 0 1 1 1859.61 1590.58M1874.83 1659.39L1875.79 1677.9M1908.67 1682.6A301.87 301.87 0 1 1 1890.46 1579.35M1907.54 1656.55L1908.62 1677.33M1941.5 1682.6A334.7 334.7 0 1 1 1921.31 1568.11M1940.25 1653.72L1941.45 1676.76M1974.33 1682.6A367.53 367.53 0 1 1 1952.16 1556.88M1972.96 1650.89L1974.28 1676.19M2007.17 1682.6A400.37 400.37 0 1 1 1983.02 1545.65M2005.67 1648.05L2007.11 1675.61" fill="none" stroke="#fff" stroke-width="1.6"/>
<text transform="translate(2052.69,1722.21) rotate(3.62) scale(0.74,1)" font-size="34.5">CREBBP</text>
<text transform="translate(2044.15,1778.04) rotate(10.85) scale(0.95,1)" font-size="34.5">MRC1</text>
<text transform="translate(2028.65,1832.35) rotate(18.09) scale(0.98,1)" font-size="34.5">TLR2</text>
<text transform="translate(2006.44,1884.28) rotate(25.32)" font-size="34.5">FADD</text>
<text transform="translate(1977.86,1933) rotate(32.55)" font-size="34.5">ITGAM</text>
<text transform="translate(1943.38,1977.73) rotate(39.79) scale(0.93,1)" font-size="34.5">CORO1A</text>
<text transform="translate(1903.53,2017.76) rotate(47.02)" font-size="34.5">MAPK14</text>
<text transform="translate(1858.97,2052.46) rotate(54.26) scale(0.97,1)" font-size="34.5">TRADD</text>
<text transform="translate(1810.39,2081.27) rotate(61.49)" font-size="34.5">SRC</text>
<text transform="translate(1758.56,2103.73) rotate(68.72) scale(0.96,1)" font-size="34.5">RAB7A</text>
<text transform="translate(1704.33,2119.49) rotate(75.96) scale(0.91,1)" font-size="34.5">NCF2</text>
<text transform="translate(1648.54,2128.3) rotate(83.19) scale(0.89,1)" font-size="34.5">NCF4</text>
<text transform="translate(1614.88,2130.17) rotate(-89.58) scale(0.86,1)" font-size="34.5" text-anchor="end">NCF1</text>
<text transform="translate(1558.46,2127.63) rotate(-82.34) scale(0.83,1)" font-size="34.5" text-anchor="end">CEBPB</text>
<text transform="translate(1502.8,2118) rotate(-75.11) scale(0.88,1)" font-size="34.5" text-anchor="end">RFXAP</text>
<text transform="translate(1448.8,2101.44) rotate(-67.87) scale(0.97,1)" font-size="34.5" text-anchor="end">STX7</text>
<text transform="translate(1397.32,2078.21) rotate(-60.64) scale(0.94,1)" font-size="34.5" text-anchor="end">CTSS</text>
<text transform="translate(1349.17,2048.68) rotate(-53.41) scale(0.77,1)" font-size="34.5" text-anchor="end">DYNC1LI1</text>
<text transform="translate(1305.13,2013.33) rotate(-46.17) scale(0.76,1)" font-size="34.5" text-anchor="end">HLA-DMB</text>
<text transform="translate(1265.88,1972.71) rotate(-38.94)" font-size="34.5" text-anchor="end">TAP1</text>
<text transform="translate(1232.07,1927.47) rotate(-31.7) scale(0.96,1)" font-size="34.5" text-anchor="end">MSR1</text>
<text transform="translate(1204.21,1878.33) rotate(-24.47)" font-size="34.5" text-anchor="end">LSP1</text>
<text transform="translate(1182.77,1826.08) rotate(-17.24) scale(0.96,1)" font-size="34.5" text-anchor="end">ITGAX</text>
<text transform="translate(1168.08,1771.54) rotate(-10) scale(0.96,1)" font-size="34.5" text-anchor="end">SYK</text>
<text transform="translate(1160.37,1715.59) rotate(-2.77) scale(0.89,1)" font-size="34.5" text-anchor="end">ITGB2</text>
<text transform="translate(1159.77,1659.11) rotate(4.47) scale(0.94,1)" font-size="34.5" text-anchor="end">CYBA</text>
<text transform="translate(1166.29,1603.01) rotate(11.7) scale(0.83,1)" font-size="34.5" text-anchor="end">MAPK1</text>
<text transform="translate(1179.82,1548.17) rotate(18.94) scale(0.89,1)" font-size="34.5" text-anchor="end">STAT1</text>
<text transform="translate(1200.14,1495.47) rotate(26.17) scale(0.97,1)" font-size="34.5" text-anchor="end">Tap2</text>
<text transform="translate(1226.94,1445.76) rotate(33.4) scale(0.76,1)" font-size="34.5" text-anchor="end">HLA-DRA</text>
<text transform="translate(1259.79,1399.81) rotate(40.64) scale(0.93,1)" font-size="34.5" text-anchor="end">TCIRG1</text>
<text transform="translate(1298.16,1358.36) rotate(47.87)" font-size="34.5" text-anchor="end">PLA2R1</text>
<text transform="translate(1341.45,1322.08) rotate(55.1) scale(0.98,1)" font-size="34.5" text-anchor="end">TUBB2A</text>
<text transform="translate(1388.96,1291.54) rotate(62.34)" font-size="34.5" text-anchor="end">CYBB</text>
<text transform="translate(1439.93,1267.22) rotate(69.57) scale(0.99,1)" font-size="34.5" text-anchor="end">HLA-A</text>
<text transform="translate(1493.57,1249.51) rotate(76.81) scale(0.97,1)" font-size="34.5" text-anchor="end">CTSL</text>
<text transform="translate(1549,1238.7) rotate(84.04) scale(0.98,1)" font-size="34.5" text-anchor="end">NFKB1</text>
<text transform="translate(1628.15,1235.46) rotate(271.27) scale(0.69,1)" font-size="34.5">HLA-DMA</text>
<text transform="translate(1684.29,1241.71) rotate(278.51) scale(0.88,1)" font-size="34.5">FCGR1A</text>
<text transform="translate(1739.19,1254.98) rotate(285.74) scale(0.98,1)" font-size="34.5">TUBB6</text>
<text transform="translate(1791.98,1275.05) rotate(292.98)" font-size="34.5">MPO</text>
<text transform="translate(1841.83,1301.62) rotate(300.21) scale(0.97,1)" font-size="34.5">NFYA</text>
<text transform="translate(1887.93,1334.24) rotate(307.44)" font-size="34.5">IRAK1</text>
<text transform="translate(1929.56,1372.42) rotate(314.68) scale(1.02,1)" font-size="34.5">TUBA1C</text>
<text transform="translate(1966.05,1415.53) rotate(321.91) scale(1.03,1)" font-size="34.5">MAPK13</text>
<text transform="translate(1996.82,1462.89) rotate(329.15) scale(0.98,1)" font-size="34.5">SEC61A1</text>
<text transform="translate(2021.38,1513.75) rotate(336.38) scale(0.98,1)" font-size="34.5">SEC61B</text>
<path d="M1836.13 1726.56L1832.2 1725.8A229.5 229.5 0 0 1 1824.96 1753.84L1828.76 1755.08M1839.83 1697.33L1829.36 1696.67A223 223 0 0 1 1822.73 1738.31L1829.02 1739.94M1803.62 1808.24L1800.67 1806.36A230 230 0 0 1 1783.54 1829.79L1786.23 1832.02M1817.87 1782.46L1808.83 1778.18A223.5 223.5 0 0 1 1787.22 1814.51L1792.47 1818.34M1765.98 1853.43L1763.6 1850.87A230 230 0 0 1 1741.16 1869.27L1743.21 1872.11M1798.89 1796.86L1793.73 1793.79A217.5 217.5 0 0 1 1744.74 1850.76L1752.67 1860.43M1771.72 1824.41L1766.03 1819.52A210 210 0 0 1 1707.04 1867.13L1718.26 1887.78M1827.03 1717.65L1808.76 1714.74A204.5 204.5 0 0 1 1735.25 1841.73L1738.7 1846.01M1663.46 1909.12L1662.51 1905.34A229.6 229.6 0 0 1 1634.02 1910.58L1634.48 1914.45M1648.35 1908.41L1647.16 1901.92A223 223 0 0 1 1605.15 1905.59L1605.07 1916.09M1691.53 1900.18L1685.54 1884.81A217 217 0 0 1 1625.71 1898.77L1626.24 1904.75M1518.85 1898.9L1520.47 1894.92A229.2 229.2 0 0 1 1494.42 1882.36L1492.31 1886.11M1546.79 1908.26L1549.56 1897.82A222.7 222.7 0 0 1 1510.07 1883.2L1507.25 1889.05M1575.68 1914.02L1577.81 1898.16A217.5 217.5 0 0 1 1531.28 1886.57L1529.47 1891.44M1445.1 1851.05L1447.87 1848.16A229.5 229.5 0 0 1 1428.29 1826.83L1425.17 1829.35M1408.14 1805.31L1411.55 1803.21A229.5 229.5 0 0 1 1397.91 1777.66L1394.27 1779.32M1437.74 1837.81L1442.01 1833.88A223.7 223.7 0 0 1 1409.44 1787.92L1404.33 1790.65M1376.85 1723.15L1381.28 1722.37A229 229 0 0 1 1378.07 1693.65L1373.57 1693.87M1383.78 1751.78L1394.77 1748.38A222 222 0 0 1 1386.18 1707.28L1379.22 1708.06M1378.15 1635.25L1382.56 1636.16A229 229 0 0 1 1390.19 1608.29L1385.94 1606.83M1374.01 1664.41L1387.47 1665.47A220 220 0 0 1 1394.62 1624.48L1385.94 1622.1M1389.5 1728.03L1400.27 1725.78A211 211 0 0 1 1398.94 1646.35L1390.07 1644.8M1424.28 1811.93L1440.35 1800.54A204 204 0 0 1 1402.83 1686.01L1395.83 1686.13M1467.6 1870.07L1488.76 1841.57A198 198 0 0 1 1418.64 1744.24L1412.94 1746.11M1446.15 1798.34L1450.86 1794.95A192.2 192.2 0 0 1 1434.3 1597.84L1397.23 1579.62M1415.27 1698.69L1421.65 1698.15A185.8 185.8 0 0 1 1451.69 1580.31L1411.87 1554.05M1426.76 1636.71L1432.77 1638.24A179.6 179.6 0 0 1 1470.51 1565.63L1429.61 1530.53M1450.17 1509.43L1452.78 1512.32A229.6 229.6 0 0 1 1475.45 1494.28L1473.22 1491.08M1447.45 1599.76L1453.66 1602.99A172.6 172.6 0 0 1 1499.33 1547.54L1463.83 1502.94M1554.22 1893.65L1566.5 1844.36A166.7 166.7 0 0 1 1478.13 1576.61L1473.58 1572.86M1498.4 1475.79L1500.21 1479.24A229.6 229.6 0 0 1 1526.67 1467.44L1525.31 1463.78M1448.5 1734.85L1454.2 1732.97A160.7 160.7 0 0 1 1541.32 1535.84L1513.25 1472.92M1656.13 1893.92L1641.87 1832.86A154.3 154.3 0 0 1 1465.67 1620.22L1459.82 1617.64M1783.78 1785.05L1734.45 1756.5A147.5 147.5 0 0 1 1493.23 1776.71L1487.99 1781.05M1582.56 1450.36L1583.03 1454.84A229 229 0 0 1 1611.9 1453.66L1612 1449.16M1641.35 1451.67L1640.68 1456.12A229 229 0 0 1 1668.93 1462.19L1670.15 1457.86M1597.44 1453.79L1597.65 1458.79A224 224 0 0 1 1653.85 1463.6L1654.9 1458.71M1553.51 1455.26L1556.93 1469.87A218.5 218.5 0 0 1 1625.43 1464.9L1625.9 1459.42M1697.95 1467.63L1696.19 1471.77A229 229 0 0 1 1722.03 1484.7L1724.29 1480.81M1590.99 1464.67L1591.56 1472.65A210.5 210.5 0 0 1 1701.03 1494.37L1709.32 1477.83M1619.12 1829.58L1618.57 1823.11A141 141 0 1 1 1634.24 1544.3L1647.76 1476.12M1748.77 1497.22L1744.82 1502.38A227 227 0 0 1 1766.41 1521.19L1770.98 1516.57M1807.26 1562.85L1803.39 1565.16A229 229 0 0 1 1816.62 1590.85L1820.74 1589.05M1790.58 1538.56L1782.32 1545.04A223 223 0 0 1 1805.08 1580.54L1810.41 1577.8M1755.91 1511.44L1748.69 1519.74A216 216 0 0 1 1788.64 1566.03L1794.54 1562.25M1466.02 1674.69L1472.51 1675.06A134.5 134.5 0 0 1 1708.62 1594.72L1770.31 1541.46" fill="none" stroke="#000" stroke-width="1.7" stroke-linejoin="miter"/>
<defs><linearGradient id="cb" x1="0" y1="0" x2="0" y2="1"><stop offset="0" stop-color="#D73027"/><stop offset="0.5" stop-color="#FFFFBF"/><stop offset="1" stop-color="#4575B4"/></linearGradient></defs>
<rect x="1566.1" y="1586" width="44.4" height="210.7" fill="url(#cb)"/>
<path d="M1566.1 1649.9h9M1610.5 1649.9h-9M1566.1 1714.8h9M1610.5 1714.8h-9M1566.1 1778.8h9M1610.5 1778.8h-9" stroke="#fff" stroke-width="1.6"/>
<text transform="translate(1620,1602.4)" font-size="39">2</text>
<text transform="translate(1620,1663.7)" font-size="39">1</text>
<text transform="translate(1620,1728.4)" font-size="39">0</text>
<text transform="translate(1616.5,1792.4)" font-size="39">-1</text>
<text transform="translate(1849.5,1645.3) rotate(-4.9) scale(0.87,1)" font-size="23">Control</text>
<text transform="translate(1933.2,1641.2) rotate(-4.3) scale(0.78,1)" font-size="23">Clinical Mastitis</text>
<path d="M1857.2 1659.1V1651.5L1922.9 1646.7V1654.3M1957.2 1651.5V1643.9L2023 1638.1V1645.8" fill="none" stroke="#555" stroke-width="1.5"/>
<text transform="translate(1016.5,1293) scale(1.17,1)" font-size="121">C</text>
<path d="M1110.2 2444L1385.5 2293M1110.2 2444L1546.4 2293M1110.2 2444L1706.6 2293M1110.2 2444L1866 2293M1110.2 2444L2029.1 2293M1110.2 2444L1387 2389.4M1110.2 2444L1546.4 2389.4M1110.2 2444L1706.6 2389.4M1110.2 2444L1864.5 2389.4M1110.2 2444L2029.1 2389.4M1110.2 2444L1466.3 2502.8M1110.2 2444L1630.2 2502.8M1110.2 2444L1788.9 2502.8M1110.2 2444L1949.7 2502.8M1111.2 2964L1501.9 2657.8M1111.2 2964L1706.6 2657.8M1111.2 2964L1899.3 2657.8M1111.2 2964L1302.5 2769M1111.2 2964L1463.4 2769M1111.2 2964L1624.3 2769M1111.2 2964L1783.7 2769M1111.2 2964L1945.3 2769M1111.2 2964L2110.6 2769M1111.2 2964L1302.5 2877.2M1111.2 2964L1463.4 2877.2M1111.2 2964L1624.3 2877.2M1111.2 2964L1783.7 2877.2M1111.2 2964L1945.3 2877.2M1111.2 2964L2110.6 2877.2M1111.2 2964L1302.5 2984M1111.2 2964L1463.4 2984M1111.2 2964L1624.3 2984M1111.2 2964L1783.7 2984M1111.2 2964L1945.3 2984M1111.2 2964L2110.6 2984M1111.2 2964L1302.5 3087.8M1111.2 2964L1463.4 3087.8M1111.2 2964L1624.3 3087.8M1111.2 2964L1783.7 3087.8M1111.2 2964L1945.3 3087.8M1111.2 2964L2110.6 3087.8M1110.2 2444L349.4 2296.4M1110.2 2444L450.8 2270.5M1110.2 2444L555.6 2270.5M1110.2 2444L656.9 2295M1110.2 2444L749.9 2343.2M1110.2 2444L828.2 2411.7M1110.2 2444L887.6 2499.1M1110.2 2444L924.6 2595.5M1110.2 2444L257.2 2343.9M1110.2 2444L178.2 2415.2M1110.2 2444L118.8 2500.5M1110.2 2444L82.5 2598.3M1110.2 2444L69.9 2701.7M1110.2 2444L83.9 2806.6M1110.2 2444L120.2 2902.3M1110.2 2444L179.6 2990.4M1110.2 2444L258.6 3058.2M1110.2 2444L351.5 3107.1M1110.2 2444L452.9 3131.5M1110.2 2444L557 3131.5M1110.2 2444L659 3107.1M1110.2 2444L751.3 3058.2M1110.2 2444L829.5 2988.3M1110.2 2444L889 2900.9M1110.2 2444L924.6 2803.1M1110.2 2444L937.9 2699.6M1111.2 2964L257.2 2343.9M1111.2 2964L178.2 2415.2M1111.2 2964L118.8 2500.5M1111.2 2964L82.5 2598.3M1111.2 2964L69.9 2701.7M1111.2 2964L83.9 2806.6M1111.2 2964L120.2 2902.3M1111.2 2964L179.6 2990.4M1111.2 2964L351.5 3107.1M1111.2 2964L557 3131.5M1111.2 2964L659 3107.1M1111.2 2964L751.3 3058.2M1111.2 2964L829.5 2988.3M1111.2 2964L889 2900.9M1111.2 2964L924.6 2803.1M1111.2 2964L937.9 2699.6M1111.2 2964L828.2 2411.7M1111.2 2964L887.6 2499.1M1111.2 2964L349.4 2296.4M1111.2 2964L450.8 2270.5M1111.2 2964L555.6 2270.5M1111.2 2964L924.6 2595.5M415.8 2455.7L555.6 2270.5M415.8 2455.7L924.6 2803.1M415.8 2455.7L751.3 3058.2M415.8 2455.7L937.9 2699.6M415.8 2455.7L889 2900.9M415.8 2455.7L120.2 2902.3M415.8 2455.7L1302.5 2769M415.8 2455.7L1624.3 2769M415.8 2455.7L1945.3 2877.2M415.8 2455.7L1783.7 2877.2M415.8 2455.7L2110.6 3087.8M415.8 2455.7L1899.3 2657.8M415.8 2455.7L2110.6 2877.2M415.8 2455.7L1302.5 2877.2M564 2455.7L937.9 2699.6M564 2455.7L889 2900.9M564 2455.7L349.4 2296.4M564 2455.7L1302.5 2769M564 2455.7L1624.3 2769M564 2455.7L1945.3 2877.2M564 2455.7L1783.7 2877.2M564 2455.7L2110.6 3087.8M564 2455.7L1463.4 2769M564 2455.7L1899.3 2657.8M564 2455.7L2110.6 2984M564 2455.7L2110.6 2769M564 2455.7L1945.3 2984M290 2535.4L178.2 2415.2M290 2535.4L118.8 2500.5M290 2535.4L69.9 2701.7M290 2535.4L120.2 2902.3M290 2535.4L82.5 2598.3M290 2535.4L924.6 2803.1M290 2535.4L751.3 3058.2M290 2535.4L937.9 2699.6M290 2535.4L659 3107.1M290 2535.4L1624.3 2769M290 2535.4L1945.3 2877.2M290 2535.4L1783.7 2877.2M290 2535.4L1302.5 2769M290 2535.4L2110.6 3087.8M290 2535.4L2110.6 2984M290 2535.4L179.6 2990.4M230.6 2682.2L120.2 2902.3M230.6 2682.2L179.6 2990.4M230.6 2682.2L1302.5 2769M230.6 2682.2L1624.3 2769M230.6 2682.2L1945.3 2877.2M230.6 2682.2L1783.7 2877.2M230.6 2682.2L1899.3 2657.8M230.6 2682.2L1624.3 3087.8M230.6 2682.2L1302.5 3087.8M230.6 2682.2L1463.4 2877.2M230.6 2682.2L1783.7 2769M230.6 2682.2L937.9 2699.6M255.8 2826.1L937.9 2699.6M255.8 2826.1L659 3107.1M255.8 2826.1L1302.5 2769M255.8 2826.1L1624.3 2769M255.8 2826.1L1945.3 2877.2M255.8 2826.1L1783.7 2877.2M255.8 2826.1L2110.6 2984M255.8 2826.1L1899.3 2657.8M255.8 2826.1L1706.6 2657.8M255.8 2826.1L2110.6 3087.8M255.8 2826.1L924.6 2803.1M255.8 2826.1L889 2900.9M345.2 2931L452.9 3131.5M345.2 2931L258.6 3058.2M345.2 2931L656.9 2295M345.2 2931L83.9 2806.6M345.2 2931L889 2900.9M345.2 2931L937.9 2699.6M345.2 2931L1624.3 2769M345.2 2931L1945.3 2877.2M345.2 2931L1783.7 2877.2M345.2 2931L1302.5 2769M345.2 2931L257.2 2343.9M489.2 2972.2L349.4 2296.4M489.2 2972.2L257.2 2343.9M489.2 2972.2L452.9 3131.5M489.2 2972.2L258.6 3058.2M489.2 2972.2L749.9 2343.2M489.2 2972.2L1501.9 2657.8M489.2 2972.2L1706.6 2657.8M489.2 2972.2L1899.3 2657.8M489.2 2972.2L1463.4 2769M489.2 2972.2L1945.3 2984M489.2 2972.2L2110.6 2769M489.2 2972.2L1302.5 2769M489.2 2972.2L2110.6 3087.8M489.2 2972.2L179.6 2990.4M632.5 2931L178.2 2415.2M632.5 2931L118.8 2500.5M632.5 2931L69.9 2701.7M632.5 2931L120.2 2902.3M632.5 2931L179.6 2990.4M632.5 2931L924.6 2803.1M632.5 2931L751.3 3058.2M632.5 2931L452.9 3131.5M632.5 2931L258.6 3058.2M632.5 2931L1945.3 2877.2M632.5 2931L1783.7 2877.2M632.5 2931L83.9 2806.6M632.5 2931L924.6 2595.5M696.8 2529.1L450.8 2270.5M696.8 2529.1L557 3131.5M696.8 2529.1L829.5 2988.3M696.8 2529.1L351.5 3107.1M696.8 2529.1L937.9 2699.6M696.8 2529.1L924.6 2803.1M696.8 2529.1L659 3107.1M696.8 2529.1L349.4 2296.4M696.8 2529.1L1385.5 2293M696.8 2529.1L1706.6 2293M696.8 2529.1L2029.1 2389.4M696.8 2529.1L1466.3 2502.8M696.8 2529.1L1788.9 2502.8M696.8 2529.1L1949.7 2502.8M696.8 2529.1L924.6 2595.5M751.3 2671.7L450.8 2270.5M751.3 2671.7L557 3131.5M751.3 2671.7L829.5 2988.3M751.3 2671.7L351.5 3107.1M751.3 2671.7L1385.5 2293M751.3 2671.7L1706.6 2293M751.3 2671.7L2029.1 2389.4M751.3 2671.7L1466.3 2502.8M751.3 2671.7L1788.9 2502.8M751.3 2671.7L1949.7 2502.8M729.6 2818.4L450.8 2270.5M729.6 2818.4L557 3131.5M729.6 2818.4L829.5 2988.3M729.6 2818.4L351.5 3107.1M729.6 2818.4L1385.5 2293M729.6 2818.4L1706.6 2293M729.6 2818.4L2029.1 2389.4M729.6 2818.4L1466.3 2502.8M729.6 2818.4L1788.9 2502.8M729.6 2818.4L1949.7 2502.8" fill="none" stroke="#8C8C8C" stroke-opacity="0.56" stroke-width="1.15"/>
<path d="M1110.2 2444L887.6 2499.1M1110.2 2444L924.6 2595.5M1110.2 2444L937.9 2699.6" fill="none" stroke="#7FA06A" stroke-opacity="0.8" stroke-width="1.2"/>
<path d="M1110.6 2482V2653" stroke="#C583C9" stroke-width="2.8"/>
<path d="M1112 2748V2926" stroke="#F5B549" stroke-width="2.8"/>
<g fill="#FB5C5F" stroke="#7a4a2a" stroke-opacity="0.16" stroke-width="1">
<circle cx="349.4" cy="2296.4" r="24.5"/>
<circle cx="450.8" cy="2270.5" r="24.5"/>
<circle cx="555.6" cy="2270.5" r="24.5"/>
<circle cx="656.9" cy="2295" r="24.5"/>
<circle cx="749.9" cy="2343.2" r="24.5"/>
<circle cx="828.2" cy="2411.7" r="24.5"/>
<circle cx="887.6" cy="2499.1" r="24.5"/>
<circle cx="924.6" cy="2595.5" r="24.5"/>
<circle cx="257.2" cy="2343.9" r="24.5"/>
<circle cx="178.2" cy="2415.2" r="24.5"/>
<circle cx="118.8" cy="2500.5" r="24.5"/>
<circle cx="82.5" cy="2598.3" r="24.5"/>
<circle cx="69.9" cy="2701.7" r="24.5"/>
<circle cx="83.9" cy="2806.6" r="24.5"/>
<circle cx="120.2" cy="2902.3" r="29.4"/>
<circle cx="179.6" cy="2990.4" r="29.4"/>
<circle cx="258.6" cy="3058.2" r="29.4"/>
<circle cx="351.5" cy="3107.1" r="29.4"/>
<circle cx="452.9" cy="3131.5" r="29.4"/>
<circle cx="557" cy="3131.5" r="33.5"/>
<circle cx="659" cy="3107.1" r="33.5"/>
<circle cx="751.3" cy="3058.2" r="33.5"/>
<circle cx="829.5" cy="2988.3" r="33.5"/>
<circle cx="889" cy="2900.9" r="33.5"/>
<circle cx="924.6" cy="2803.1" r="38.4"/>
<circle cx="937.9" cy="2699.6" r="38.4"/>
<circle cx="1111.8" cy="2700.5" r="48.8"/>
</g>
<g fill="#FCAE5C" stroke="#7a4a2a" stroke-opacity="0.16" stroke-width="1">
<circle cx="415.8" cy="2455.7" r="37"/>
<circle cx="564" cy="2455.7" r="37"/>
<circle cx="290" cy="2535.4" r="37"/>
<circle cx="230.6" cy="2682.2" r="37"/>
<circle cx="255.8" cy="2826.1" r="37"/>
<circle cx="345.2" cy="2931" r="37"/>
<circle cx="489.2" cy="2972.2" r="37"/>
<circle cx="632.5" cy="2931" r="37"/>
<circle cx="1111.2" cy="2964" r="39.2"/>
<circle cx="1501.9" cy="2657.8" r="29.4"/>
<circle cx="1706.6" cy="2657.8" r="29.4"/>
<circle cx="1899.3" cy="2657.8" r="29.4"/>
<circle cx="1302.5" cy="2769" r="29.4"/>
<circle cx="1463.4" cy="2769" r="29.4"/>
<circle cx="1624.3" cy="2769" r="29.4"/>
<circle cx="1783.7" cy="2769" r="29.4"/>
<circle cx="1945.3" cy="2769" r="29.4"/>
<circle cx="2110.6" cy="2769" r="29.4"/>
<circle cx="1302.5" cy="2877.2" r="29.4"/>
<circle cx="1463.4" cy="2877.2" r="29.4"/>
<circle cx="1624.3" cy="2877.2" r="29.4"/>
<circle cx="1783.7" cy="2877.2" r="29.4"/>
<circle cx="1945.3" cy="2877.2" r="29.4"/>
<circle cx="2110.6" cy="2877.2" r="29.4"/>
<circle cx="1302.5" cy="2984" r="29.4"/>
<circle cx="1463.4" cy="2984" r="29.4"/>
<circle cx="1624.3" cy="2984" r="29.4"/>
<circle cx="1783.7" cy="2984" r="29.4"/>
<circle cx="1945.3" cy="2984" r="29.4"/>
<circle cx="2110.6" cy="2984" r="29.4"/>
<circle cx="1302.5" cy="3087.8" r="29.4"/>
<circle cx="1463.4" cy="3087.8" r="29.4"/>
<circle cx="1624.3" cy="3087.8" r="29.4"/>
<circle cx="1783.7" cy="3087.8" r="29.4"/>
<circle cx="1945.3" cy="3087.8" r="29.4"/>
<circle cx="2110.6" cy="3087.8" r="29.4"/>
</g>
<g fill="#AB82F7" stroke="#7a4a2a" stroke-opacity="0.16" stroke-width="1">
<circle cx="696.8" cy="2529.1" r="37"/>
<circle cx="751.3" cy="2671.7" r="37"/>
<circle cx="729.6" cy="2818.4" r="37"/>
<circle cx="1110.2" cy="2444" r="39.2"/>
<circle cx="1385.5" cy="2293" r="29.4"/>
<circle cx="1546.4" cy="2293" r="29.4"/>
<circle cx="1706.6" cy="2293" r="29.4"/>
<circle cx="1866" cy="2293" r="29.4"/>
<circle cx="2029.1" cy="2293" r="29.4"/>
<circle cx="1387" cy="2389.4" r="29.4"/>
<circle cx="1546.4" cy="2389.4" r="29.4"/>
<circle cx="1706.6" cy="2389.4" r="29.4"/>
<circle cx="1864.5" cy="2389.4" r="29.4"/>
<circle cx="2029.1" cy="2389.4" r="29.4"/>
<circle cx="1466.3" cy="2502.8" r="29.4"/>
<circle cx="1630.2" cy="2502.8" r="29.4"/>
<circle cx="1788.9" cy="2502.8" r="29.4"/>
<circle cx="1949.7" cy="2502.8" r="29.4"/>
</g>
<path d="M1110.2 2444L1385.5 2293M1110.2 2444L1546.4 2293M1110.2 2444L1706.6 2293M1110.2 2444L1866 2293M1110.2 2444L2029.1 2293M1110.2 2444L1387 2389.4M1110.2 2444L1546.4 2389.4M1110.2 2444L1706.6 2389.4M1110.2 2444L1864.5 2389.4M1110.2 2444L2029.1 2389.4M1110.2 2444L1466.3 2502.8M1110.2 2444L1630.2 2502.8M1110.2 2444L1788.9 2502.8M1110.2 2444L1949.7 2502.8M1111.2 2964L1501.9 2657.8M1111.2 2964L1706.6 2657.8M1111.2 2964L1899.3 2657.8M1111.2 2964L1302.5 2769M1111.2 2964L1463.4 2769M1111.2 2964L1624.3 2769M1111.2 2964L1783.7 2769M1111.2 2964L1945.3 2769M1111.2 2964L2110.6 2769M1111.2 2964L1302.5 2877.2M1111.2 2964L1463.4 2877.2M1111.2 2964L1624.3 2877.2M1111.2 2964L1783.7 2877.2M1111.2 2964L1945.3 2877.2M1111.2 2964L2110.6 2877.2M1111.2 2964L1302.5 2984M1111.2 2964L1463.4 2984M1111.2 2964L1624.3 2984M1111.2 2964L1783.7 2984M1111.2 2964L1945.3 2984M1111.2 2964L2110.6 2984M1111.2 2964L1302.5 3087.8M1111.2 2964L1463.4 3087.8M1111.2 2964L1624.3 3087.8M1111.2 2964L1783.7 3087.8M1111.2 2964L1945.3 3087.8M1111.2 2964L2110.6 3087.8M1110.2 2444L349.4 2296.4M1110.2 2444L450.8 2270.5M1110.2 2444L555.6 2270.5M1110.2 2444L656.9 2295M1110.2 2444L749.9 2343.2M1110.2 2444L828.2 2411.7M1110.2 2444L887.6 2499.1M1110.2 2444L924.6 2595.5M1110.2 2444L257.2 2343.9M1110.2 2444L178.2 2415.2M1110.2 2444L118.8 2500.5M1110.2 2444L82.5 2598.3M1110.2 2444L69.9 2701.7M1110.2 2444L83.9 2806.6M1110.2 2444L120.2 2902.3M1110.2 2444L179.6 2990.4M1110.2 2444L258.6 3058.2M1110.2 2444L351.5 3107.1M1110.2 2444L452.9 3131.5M1110.2 2444L557 3131.5M1110.2 2444L659 3107.1M1110.2 2444L751.3 3058.2M1110.2 2444L829.5 2988.3M1110.2 2444L889 2900.9M1110.2 2444L924.6 2803.1M1110.2 2444L937.9 2699.6M1111.2 2964L257.2 2343.9M1111.2 2964L178.2 2415.2M1111.2 2964L118.8 2500.5M1111.2 2964L82.5 2598.3M1111.2 2964L69.9 2701.7M1111.2 2964L83.9 2806.6M1111.2 2964L120.2 2902.3M1111.2 2964L179.6 2990.4M1111.2 2964L351.5 3107.1M1111.2 2964L557 3131.5M1111.2 2964L659 3107.1M1111.2 2964L751.3 3058.2M1111.2 2964L829.5 2988.3M1111.2 2964L889 2900.9M1111.2 2964L924.6 2803.1M1111.2 2964L937.9 2699.6M1111.2 2964L828.2 2411.7M1111.2 2964L887.6 2499.1M1111.2 2964L349.4 2296.4M1111.2 2964L450.8 2270.5M1111.2 2964L555.6 2270.5M1111.2 2964L924.6 2595.5M415.8 2455.7L555.6 2270.5M415.8 2455.7L924.6 2803.1M415.8 2455.7L751.3 3058.2M415.8 2455.7L937.9 2699.6M415.8 2455.7L889 2900.9M415.8 2455.7L120.2 2902.3M415.8 2455.7L1302.5 2769M415.8 2455.7L1624.3 2769M415.8 2455.7L1945.3 2877.2M415.8 2455.7L1783.7 2877.2M415.8 2455.7L2110.6 3087.8M415.8 2455.7L1899.3 2657.8M415.8 2455.7L2110.6 2877.2M415.8 2455.7L1302.5 2877.2M564 2455.7L937.9 2699.6M564 2455.7L889 2900.9M564 2455.7L349.4 2296.4M564 2455.7L1302.5 2769M564 2455.7L1624.3 2769M564 2455.7L1945.3 2877.2M564 2455.7L1783.7 2877.2M564 2455.7L2110.6 3087.8M564 2455.7L1463.4 2769M564 2455.7L1899.3 2657.8M564 2455.7L2110.6 2984M564 2455.7L2110.6 2769M564 2455.7L1945.3 2984M290 2535.4L178.2 2415.2M290 2535.4L118.8 2500.5M290 2535.4L69.9 2701.7M290 2535.4L120.2 2902.3M290 2535.4L82.5 2598.3M290 2535.4L924.6 2803.1M290 2535.4L751.3 3058.2M290 2535.4L937.9 2699.6M290 2535.4L659 3107.1M290 2535.4L1624.3 2769M290 2535.4L1945.3 2877.2M290 2535.4L1783.7 2877.2M290 2535.4L1302.5 2769M290 2535.4L2110.6 3087.8M290 2535.4L2110.6 2984M290 2535.4L179.6 2990.4M230.6 2682.2L120.2 2902.3M230.6 2682.2L179.6 2990.4M230.6 2682.2L1302.5 2769M230.6 2682.2L1624.3 2769M230.6 2682.2L1945.3 2877.2M230.6 2682.2L1783.7 2877.2M230.6 2682.2L1899.3 2657.8M230.6 2682.2L1624.3 3087.8M230.6 2682.2L1302.5 3087.8M230.6 2682.2L1463.4 2877.2M230.6 2682.2L1783.7 2769M230.6 2682.2L937.9 2699.6M255.8 2826.1L937.9 2699.6M255.8 2826.1L659 3107.1M255.8 2826.1L1302.5 2769M255.8 2826.1L1624.3 2769M255.8 2826.1L1945.3 2877.2M255.8 2826.1L1783.7 2877.2M255.8 2826.1L2110.6 2984M255.8 2826.1L1899.3 2657.8M255.8 2826.1L1706.6 2657.8M255.8 2826.1L2110.6 3087.8M255.8 2826.1L924.6 2803.1M255.8 2826.1L889 2900.9M345.2 2931L452.9 3131.5M345.2 2931L258.6 3058.2M345.2 2931L656.9 2295M345.2 2931L83.9 2806.6M345.2 2931L889 2900.9M345.2 2931L937.9 2699.6M345.2 2931L1624.3 2769M345.2 2931L1945.3 2877.2M345.2 2931L1783.7 2877.2M345.2 2931L1302.5 2769M345.2 2931L257.2 2343.9M489.2 2972.2L349.4 2296.4M489.2 2972.2L257.2 2343.9M489.2 2972.2L452.9 3131.5M489.2 2972.2L258.6 3058.2M489.2 2972.2L749.9 2343.2M489.2 2972.2L1501.9 2657.8M489.2 2972.2L1706.6 2657.8M489.2 2972.2L1899.3 2657.8M489.2 2972.2L1463.4 2769M489.2 2972.2L1945.3 2984M489.2 2972.2L2110.6 2769M489.2 2972.2L1302.5 2769M489.2 2972.2L2110.6 3087.8M489.2 2972.2L179.6 2990.4M632.5 2931L178.2 2415.2M632.5 2931L118.8 2500.5M632.5 2931L69.9 2701.7M632.5 2931L120.2 2902.3M632.5 2931L179.6 2990.4M632.5 2931L924.6 2803.1M632.5 2931L751.3 3058.2M632.5 2931L452.9 3131.5M632.5 2931L258.6 3058.2M632.5 2931L1945.3 2877.2M632.5 2931L1783.7 2877.2M632.5 2931L83.9 2806.6M632.5 2931L924.6 2595.5M696.8 2529.1L450.8 2270.5M696.8 2529.1L557 3131.5M696.8 2529.1L829.5 2988.3M696.8 2529.1L351.5 3107.1M696.8 2529.1L937.9 2699.6M696.8 2529.1L924.6 2803.1M696.8 2529.1L659 3107.1M696.8 2529.1L349.4 2296.4M696.8 2529.1L1385.5 2293M696.8 2529.1L1706.6 2293M696.8 2529.1L2029.1 2389.4M696.8 2529.1L1466.3 2502.8M696.8 2529.1L1788.9 2502.8M696.8 2529.1L1949.7 2502.8M696.8 2529.1L924.6 2595.5M751.3 2671.7L450.8 2270.5M751.3 2671.7L557 3131.5M751.3 2671.7L829.5 2988.3M751.3 2671.7L351.5 3107.1M751.3 2671.7L1385.5 2293M751.3 2671.7L1706.6 2293M751.3 2671.7L2029.1 2389.4M751.3 2671.7L1466.3 2502.8M751.3 2671.7L1788.9 2502.8M751.3 2671.7L1949.7 2502.8M729.6 2818.4L450.8 2270.5M729.6 2818.4L557 3131.5M729.6 2818.4L829.5 2988.3M729.6 2818.4L351.5 3107.1M729.6 2818.4L1385.5 2293M729.6 2818.4L1706.6 2293M729.6 2818.4L2029.1 2389.4M729.6 2818.4L1466.3 2502.8M729.6 2818.4L1788.9 2502.8M729.6 2818.4L1949.7 2502.8" fill="none" stroke="#8C8C8C" stroke-opacity="0.11" stroke-width="1.15"/>
<text transform="translate(1388.86,2347.6) scale(0.91,1)" font-size="34" text-anchor="middle">ATP6V1F</text>
<text transform="translate(1549.75,2347.6) scale(0.92,1)" font-size="34" text-anchor="middle">TUBB2A</text>
<text transform="translate(1709.15,2347.6) scale(0.9,1)" font-size="34" text-anchor="middle">ATP6V1E1</text>
<text transform="translate(1871.14,2347.6) scale(0.96,1)" font-size="34" text-anchor="middle">SEC61B</text>
<text transform="translate(2032.4,2347.6) scale(1,1)" font-size="34" text-anchor="middle">STX7</text>
<text transform="translate(1394.8,2449.2) scale(0.96,1)" font-size="34" text-anchor="middle">CD36</text>
<text transform="translate(1554.57,2449.2) scale(1.01,1)" font-size="34" text-anchor="middle">TAP1</text>
<text transform="translate(1714.71,2449.2) scale(0.97,1)" font-size="34" text-anchor="middle">MSR1</text>
<text transform="translate(1875.59,2449.2) scale(0.95,1)" font-size="34" text-anchor="middle">SEC61A1</text>
<text transform="translate(2037.96,2449.2) scale(0.93,1)" font-size="34" text-anchor="middle">ATP6V1A</text>
<text transform="translate(1470.05,2562.6) scale(0.91,1)" font-size="34" text-anchor="middle">ATP6V1B2</text>
<text transform="translate(1632.78,2562.6) scale(1.01,1)" font-size="34" text-anchor="middle">TUBB6</text>
<text transform="translate(1788.11,2562.6) scale(0.91,1)" font-size="34" text-anchor="middle">ATP6V1C1</text>
<text transform="translate(1958.26,2562.6) scale(0.9,1)" font-size="34" text-anchor="middle">ATP6V1G1</text>
<text transform="translate(1507.12,2716.1) scale(1.04,1)" font-size="34" text-anchor="middle">BAX</text>
<text transform="translate(1709.89,2716.1) scale(1.01,1)" font-size="34" text-anchor="middle">BAD</text>
<text transform="translate(1903.4,2716.1) scale(0.95,1)" font-size="34" text-anchor="middle">CASP8</text>
<text transform="translate(1306.2,2827.3) scale(1.02,1)" font-size="34" text-anchor="middle">NFKB1</text>
<text transform="translate(1465.23,2827.3) scale(1.03,1)" font-size="34" text-anchor="middle">FADD</text>
<text transform="translate(1629.08,2827.3) scale(1.04,1)" font-size="34" text-anchor="middle">MAPK1</text>
<text transform="translate(1785.88,2827.3) scale(0.98,1)" font-size="34" text-anchor="middle">CATHL3</text>
<text transform="translate(1942.69,2827.3) scale(0.91,1)" font-size="34" text-anchor="middle">CREBBP</text>
<text transform="translate(2112.1,2827.3) scale(1.01,1)" font-size="34" text-anchor="middle">APAF1</text>
<text transform="translate(1304.72,2935.5) scale(1.01,1)" font-size="34" text-anchor="middle">CEBPB</text>
<text transform="translate(1464.49,2935.5) scale(0.98,1)" font-size="34" text-anchor="middle">CATHL1</text>
<text transform="translate(1621.66,2935.5) scale(0.93,1)" font-size="34" text-anchor="middle">LSP1</text>
<text transform="translate(1784.03,2935.5) scale(0.93,1)" font-size="34" text-anchor="middle">MAPK14</text>
<text transform="translate(1946.03,2935.5) scale(0.94,1)" font-size="34" text-anchor="middle">MAPK13</text>
<text transform="translate(2105.8,2935.5) scale(0.98,1)" font-size="34" text-anchor="middle">SRC</text>
<text transform="translate(1301.38,3042.3) scale(1.06,1)" font-size="34" text-anchor="middle">SYK</text>
<text transform="translate(1464.12,3042.3) scale(0.99,1)" font-size="34" text-anchor="middle">CATHL2</text>
<text transform="translate(1624.63,3042.3) scale(1,1)" font-size="34" text-anchor="middle">CATHL4</text>
<text transform="translate(1785.88,3042.3) scale(1.08,1)" font-size="34" text-anchor="middle">NFYA</text>
<text transform="translate(1950.85,3042.3) scale(1.05,1)" font-size="34" text-anchor="middle">TRADD</text>
<text transform="translate(2110.25,3042.3) scale(1.04,1)" font-size="34" text-anchor="middle">STAT1</text>
<text transform="translate(1307.68,3146.1) scale(1.07,1)" font-size="34" text-anchor="middle">CAMP</text>
<text transform="translate(1468.94,3146.1) scale(1.04,1)" font-size="34" text-anchor="middle">RFXAP</text>
<text transform="translate(1626.11,3146.1) scale(1.01,1)" font-size="34" text-anchor="middle">CARD9</text>
<text transform="translate(1784.77,3146.1) scale(0.98,1)" font-size="34" text-anchor="middle">CATHL6</text>
<text transform="translate(1942.32,3146.1) scale(0.99,1)" font-size="34" text-anchor="middle">CD74</text>
<text transform="translate(2105.8,3146.1) scale(1.05,1)" font-size="34" text-anchor="middle">IRAK1</text>
<text transform="translate(346,2345.3) scale(1.02,1)" font-size="34" text-anchor="middle">CTSL</text>
<text transform="translate(446.2,2320.9) scale(0.81,1)" font-size="34" text-anchor="middle">ATP6AP1</text>
<text transform="translate(556.6,2320.9) scale(0.98,1)" font-size="34" text-anchor="middle">C1R</text>
<text transform="translate(657.6,2345.3) scale(0.74,1)" font-size="34" text-anchor="middle">DYNC1LI1</text>
<text transform="translate(747.8,2394.2) scale(0.87,1)" font-size="34" text-anchor="middle">TUBA1C</text>
<text transform="translate(839.3,2462.7) scale(1.01,1)" font-size="34" text-anchor="middle">MRC1</text>
<text transform="translate(900.8,2548) scale(0.98,1)" font-size="34" text-anchor="middle">PLA2R1</text>
<text transform="translate(935.8,2645.8) scale(0.99,1)" font-size="34" text-anchor="middle">MPO</text>
<text transform="translate(947.3,2762.5) scale(1.01,1)" font-size="34" text-anchor="middle">TLR2</text>
<text transform="translate(933,2867.4)" font-size="34" text-anchor="middle">ITGB2</text>
<text transform="translate(892,2961.7) scale(0.95,1)" font-size="34" text-anchor="middle">CD14</text>
<text transform="translate(862.4,3047.7) scale(0.88,1)" font-size="34" text-anchor="middle">ATP6V0A1</text>
<text transform="translate(764.5,3117.5) scale(0.99,1)" font-size="34" text-anchor="middle">ITGAM</text>
<text transform="translate(686,3165.1) scale(0.93,1)" font-size="34" text-anchor="middle">BLA-DQB</text>
<text transform="translate(562.2,3194.4) scale(0.9,1)" font-size="34" text-anchor="middle">TCIRG1</text>
<text transform="translate(446.6,3194.4) scale(0.9,1)" font-size="34" text-anchor="middle">ACTB</text>
<text transform="translate(341.7,3161.6) scale(0.92,1)" font-size="34" text-anchor="middle">ATP6V1H</text>
<text transform="translate(257.5,3114) scale(0.99,1)" font-size="34" text-anchor="middle">ACTG1</text>
<text transform="translate(192.2,3044.2) scale(1.01,1)" font-size="34" text-anchor="middle">CYBB</text>
<text transform="translate(132.8,2958.2) scale(1.02,1)" font-size="34" text-anchor="middle">CYBA</text>
<text transform="translate(96.8,2855.5) scale(1.01,1)" font-size="34" text-anchor="middle">RAB7A</text>
<text transform="translate(79,2752) scale(0.97,1)" font-size="34" text-anchor="middle">NCF4</text>
<text transform="translate(98.2,2647.2) scale(0.99,1)" font-size="34" text-anchor="middle">FCGR1A</text>
<text transform="translate(127.9,2548) scale(0.96,1)" font-size="34" text-anchor="middle">NCF2</text>
<text transform="translate(187,2462.7) scale(0.96,1)" font-size="34" text-anchor="middle">NCF1</text>
<text transform="translate(263.1,2392.8) scale(0.93,1)" font-size="34" text-anchor="middle">CTSS</text>
<text transform="translate(391.4,2515.1) scale(0.99,1)" font-size="34" text-anchor="middle">Pertussis</text>
<text transform="translate(601,2516.5) scale(1.02,1)" font-size="34" text-anchor="middle">Toll-like receptor</text>
<text transform="translate(567.1,2544.5) scale(1,1)" font-size="34" text-anchor="middle">signaling</text>
<text transform="translate(565.7,2577.3) scale(0.98,1)" font-size="34" text-anchor="middle">pathway</text>
<text transform="translate(290,2600.4) scale(1,1)" font-size="34" text-anchor="middle">Leishmaniasis</text>
<text transform="translate(729.6,2591.3) scale(1,1)" font-size="34" text-anchor="middle">Rheumatoid</text>
<text transform="translate(729.3,2620)" font-size="34" text-anchor="middle">arthritis</text>
<text transform="translate(281.3,2749.2) scale(1.01,1)" font-size="34" text-anchor="middle">NOD-like receptor</text>
<text transform="translate(281.3,2778.6) scale(1,1)" font-size="34" text-anchor="middle">signaling pathway</text>
<text transform="translate(739.7,2734.6) scale(1.01,1)" font-size="34" text-anchor="middle">Collecting duct</text>
<text transform="translate(733.8,2763.2) scale(1.01,1)" font-size="34" text-anchor="middle">acid secretion</text>
<text transform="translate(258.6,2890.4) scale(0.86,1)" font-size="34" text-anchor="middle">Toxoplasmosis</text>
<text transform="translate(739.2,2876.4) scale(1,1)" font-size="34" text-anchor="middle">Synaptic</text>
<text transform="translate(746,2905.8) scale(1,1)" font-size="34" text-anchor="middle">vesicle cycle</text>
<text transform="translate(327.8,2990.4) scale(0.99,1)" font-size="34" text-anchor="middle">Salmonella</text>
<text transform="translate(327.8,3018.3) scale(0.98,1)" font-size="34" text-anchor="middle">infection</text>
<text transform="translate(474.2,3033.7) scale(0.99,1)" font-size="34" text-anchor="middle">Apoptosis</text>
<text transform="translate(640.5,2991.8) scale(1,1)" font-size="34" text-anchor="middle">Leukocyte</text>
<text transform="translate(656.6,3019.7) scale(0.84,1)" font-size="34" text-anchor="middle">transendothelial</text>
<text transform="translate(640.2,3049.1) scale(0.98,1)" font-size="34" text-anchor="middle">migration</text>
<text transform="translate(1112,2390.4) scale(0.95,1)" font-size="41" text-anchor="middle" fill="#70409E" stroke="#70409E" stroke-width="0.5">Phagosome</text>
<text transform="translate(1113.6,2789.3) scale(0.88,1)" font-size="44" text-anchor="middle" fill="#FF0000" stroke="#FF0000" stroke-width="0.7">CORO1A</text>
<text transform="translate(1107.9,3036.2) scale(0.95,1)" font-size="41" text-anchor="middle" fill="#F6A53E" stroke="#F6A53E" stroke-width="0.5">Tuberculosis</text>
<text transform="translate(-2.5,2324.3) scale(1.08,1)" font-size="123.5">D</text>
</svg>
</body></html>
